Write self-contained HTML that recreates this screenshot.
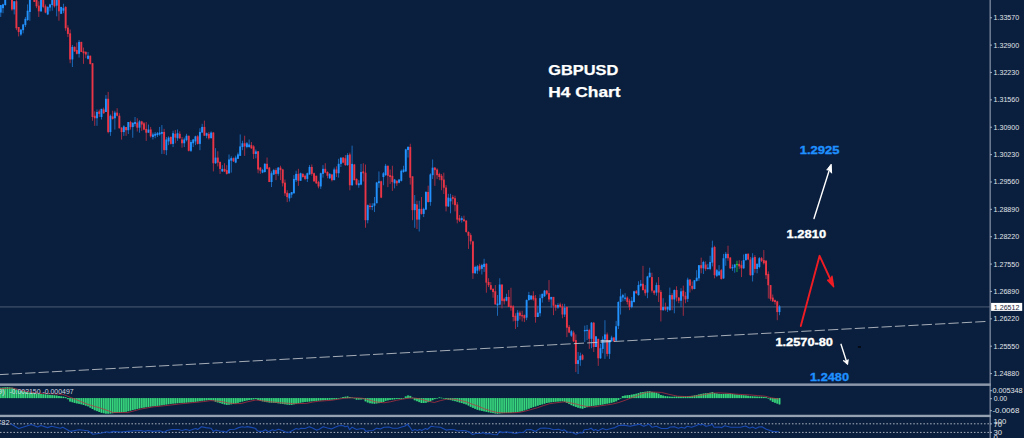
<!DOCTYPE html><html><head><meta charset="utf-8"><title>GBPUSD H4 Chart</title><style>
html,body{margin:0;padding:0;background:#0a1f3d;}
body{width:1024px;height:438px;overflow:hidden;font-family:"Liberation Sans",sans-serif;}
svg{display:block;}
text{font-family:"Liberation Sans",sans-serif;}
.ax{font-size:7.7px;fill:#e0e4ea;}
.lbl{font-weight:bold;font-size:11.2px;stroke-width:0.35px;}
</style></head><body>
<svg width="1024" height="438" viewBox="0 0 1024 438">
<rect x="0" y="0" width="1024" height="438" fill="#0a1f3d"/>
<rect x="0" y="306.1" width="990" height="1.6" fill="#8a96a8" opacity="0.33"/>
<g shape-rendering="geometricPrecision">
<rect x="0.31" y="5.03" width="0.9" height="11.93" fill="#1d6fc4"/>
<rect x="-0.19" y="5.03" width="1.90" height="7.54" fill="#2292ff"/>
<rect x="2.55" y="3.77" width="0.9" height="9.42" fill="#1d6fc4"/>
<rect x="2.05" y="4.40" width="1.90" height="3.77" fill="#2292ff"/>
<rect x="4.79" y="0.00" width="0.9" height="5.65" fill="#1d6fc4"/>
<rect x="4.29" y="0.00" width="1.90" height="5.03" fill="#2292ff"/>
<rect x="11.50" y="0.00" width="0.9" height="10.68" fill="#b02e45"/>
<rect x="11.00" y="0.00" width="1.90" height="9.42" fill="#ea3546"/>
<rect x="13.74" y="1.26" width="0.9" height="13.19" fill="#1d6fc4"/>
<rect x="13.24" y="1.26" width="1.90" height="8.17" fill="#2292ff"/>
<rect x="15.97" y="0.00" width="0.9" height="30.15" fill="#b02e45"/>
<rect x="15.47" y="1.26" width="1.90" height="27.01" fill="#ea3546"/>
<rect x="18.21" y="27.01" width="0.9" height="9.42" fill="#b02e45"/>
<rect x="17.71" y="27.01" width="1.90" height="5.03" fill="#ea3546"/>
<rect x="20.45" y="29.52" width="0.9" height="6.28" fill="#1d6fc4"/>
<rect x="19.95" y="29.52" width="1.90" height="5.03" fill="#2292ff"/>
<rect x="22.69" y="23.87" width="0.9" height="9.42" fill="#1d6fc4"/>
<rect x="22.19" y="24.50" width="1.90" height="5.65" fill="#2292ff"/>
<rect x="24.92" y="16.96" width="0.9" height="10.05" fill="#1d6fc4"/>
<rect x="24.42" y="18.84" width="1.90" height="6.28" fill="#2292ff"/>
<rect x="27.16" y="4.40" width="0.9" height="16.33" fill="#1d6fc4"/>
<rect x="26.66" y="10.68" width="1.90" height="9.42" fill="#2292ff"/>
<rect x="29.40" y="0.00" width="0.9" height="20.73" fill="#1d6fc4"/>
<rect x="28.90" y="0.00" width="1.90" height="11.93" fill="#2292ff"/>
<rect x="33.88" y="0.00" width="0.9" height="1.88" fill="#b02e45"/>
<rect x="33.38" y="0.00" width="1.90" height="1.88" fill="#ea3546"/>
<rect x="36.11" y="0.00" width="0.9" height="8.17" fill="#b02e45"/>
<rect x="35.61" y="0.00" width="1.90" height="6.28" fill="#ea3546"/>
<rect x="38.35" y="1.26" width="0.9" height="15.70" fill="#b02e45"/>
<rect x="37.85" y="5.65" width="1.90" height="5.65" fill="#ea3546"/>
<rect x="40.59" y="0.00" width="0.9" height="11.93" fill="#1d6fc4"/>
<rect x="40.09" y="0.00" width="1.90" height="11.31" fill="#2292ff"/>
<rect x="42.83" y="0.00" width="0.9" height="8.17" fill="#b02e45"/>
<rect x="42.33" y="0.00" width="1.90" height="6.91" fill="#ea3546"/>
<rect x="45.06" y="4.40" width="0.9" height="8.79" fill="#b02e45"/>
<rect x="44.56" y="6.28" width="1.90" height="6.28" fill="#ea3546"/>
<rect x="47.30" y="6.28" width="0.9" height="8.79" fill="#1d6fc4"/>
<rect x="46.80" y="6.91" width="1.90" height="7.54" fill="#2292ff"/>
<rect x="49.54" y="3.77" width="0.9" height="7.54" fill="#1d6fc4"/>
<rect x="49.04" y="4.40" width="1.90" height="3.14" fill="#2292ff"/>
<rect x="51.78" y="0.00" width="0.9" height="10.68" fill="#1d6fc4"/>
<rect x="51.28" y="0.00" width="1.90" height="5.03" fill="#2292ff"/>
<rect x="54.01" y="0.00" width="0.9" height="7.54" fill="#b02e45"/>
<rect x="53.51" y="0.00" width="1.90" height="6.28" fill="#ea3546"/>
<rect x="56.25" y="0.00" width="0.9" height="16.33" fill="#1d6fc4"/>
<rect x="55.75" y="0.00" width="1.90" height="5.65" fill="#2292ff"/>
<rect x="58.49" y="0.00" width="0.9" height="20.73" fill="#b02e45"/>
<rect x="57.99" y="0.00" width="1.90" height="11.31" fill="#ea3546"/>
<rect x="60.73" y="6.91" width="0.9" height="6.91" fill="#1d6fc4"/>
<rect x="60.23" y="6.91" width="1.90" height="6.91" fill="#2292ff"/>
<rect x="62.97" y="3.77" width="0.9" height="9.42" fill="#1d6fc4"/>
<rect x="62.47" y="8.17" width="1.90" height="2.51" fill="#2292ff"/>
<rect x="65.20" y="6.28" width="0.9" height="24.50" fill="#b02e45"/>
<rect x="64.70" y="6.91" width="1.90" height="21.36" fill="#ea3546"/>
<rect x="67.44" y="25.13" width="0.9" height="11.93" fill="#b02e45"/>
<rect x="66.94" y="27.64" width="1.90" height="6.28" fill="#ea3546"/>
<rect x="69.68" y="29.45" width="0.9" height="33.79" fill="#b02e45"/>
<rect x="69.18" y="33.34" width="1.90" height="26.13" fill="#ea3546"/>
<rect x="71.92" y="45.03" width="0.9" height="21.98" fill="#1d6fc4"/>
<rect x="71.42" y="46.91" width="1.90" height="12.56" fill="#2292ff"/>
<rect x="74.15" y="46.28" width="0.9" height="5.65" fill="#b02e45"/>
<rect x="73.65" y="46.91" width="1.90" height="4.40" fill="#ea3546"/>
<rect x="76.39" y="42.51" width="0.9" height="11.93" fill="#b02e45"/>
<rect x="75.89" y="50.05" width="1.90" height="3.77" fill="#ea3546"/>
<rect x="78.63" y="40.00" width="0.9" height="17.59" fill="#1d6fc4"/>
<rect x="78.13" y="41.88" width="1.90" height="11.93" fill="#2292ff"/>
<rect x="80.87" y="41.88" width="0.9" height="10.05" fill="#b02e45"/>
<rect x="80.37" y="41.88" width="1.90" height="10.05" fill="#ea3546"/>
<rect x="83.10" y="47.54" width="0.9" height="16.33" fill="#b02e45"/>
<rect x="82.60" y="51.31" width="1.90" height="1.88" fill="#ea3546"/>
<rect x="85.34" y="51.31" width="0.9" height="6.91" fill="#b02e45"/>
<rect x="84.84" y="51.93" width="1.90" height="2.51" fill="#ea3546"/>
<rect x="87.58" y="51.93" width="0.9" height="7.54" fill="#1d6fc4"/>
<rect x="87.08" y="55.70" width="1.90" height="3.14" fill="#2292ff"/>
<rect x="89.82" y="55.70" width="0.9" height="8.79" fill="#b02e45"/>
<rect x="89.32" y="55.70" width="1.90" height="8.17" fill="#ea3546"/>
<rect x="92.06" y="62.99" width="0.9" height="57.79" fill="#b02e45"/>
<rect x="91.56" y="63.24" width="1.90" height="53.77" fill="#ea3546"/>
<rect x="94.29" y="111.36" width="0.9" height="14.45" fill="#b02e45"/>
<rect x="93.79" y="115.75" width="1.90" height="2.51" fill="#ea3546"/>
<rect x="96.53" y="109.47" width="0.9" height="16.33" fill="#1d6fc4"/>
<rect x="96.03" y="111.98" width="1.90" height="6.28" fill="#2292ff"/>
<rect x="98.77" y="109.47" width="0.9" height="7.54" fill="#b02e45"/>
<rect x="98.27" y="111.36" width="1.90" height="2.51" fill="#ea3546"/>
<rect x="101.01" y="108.84" width="0.9" height="10.68" fill="#1d6fc4"/>
<rect x="100.51" y="108.84" width="1.90" height="8.17" fill="#2292ff"/>
<rect x="103.24" y="107.59" width="0.9" height="6.28" fill="#b02e45"/>
<rect x="102.74" y="109.47" width="1.90" height="3.77" fill="#ea3546"/>
<rect x="105.48" y="95.03" width="0.9" height="16.96" fill="#1d6fc4"/>
<rect x="104.98" y="98.79" width="1.90" height="13.19" fill="#2292ff"/>
<rect x="107.72" y="91.88" width="0.9" height="41.46" fill="#b02e45"/>
<rect x="107.22" y="98.79" width="1.90" height="33.29" fill="#ea3546"/>
<rect x="109.96" y="114.50" width="0.9" height="21.36" fill="#1d6fc4"/>
<rect x="109.46" y="115.75" width="1.90" height="16.33" fill="#2292ff"/>
<rect x="112.19" y="110.73" width="0.9" height="8.79" fill="#b02e45"/>
<rect x="111.69" y="116.38" width="1.90" height="2.51" fill="#ea3546"/>
<rect x="114.43" y="110.73" width="0.9" height="18.84" fill="#1d6fc4"/>
<rect x="113.93" y="112.61" width="1.90" height="5.65" fill="#2292ff"/>
<rect x="116.67" y="108.22" width="0.9" height="8.17" fill="#b02e45"/>
<rect x="116.17" y="112.61" width="1.90" height="3.14" fill="#ea3546"/>
<rect x="118.91" y="113.24" width="0.9" height="15.08" fill="#b02e45"/>
<rect x="118.41" y="115.75" width="1.90" height="12.56" fill="#ea3546"/>
<rect x="121.15" y="127.06" width="0.9" height="12.56" fill="#b02e45"/>
<rect x="120.65" y="127.69" width="1.90" height="4.40" fill="#ea3546"/>
<rect x="123.38" y="125.18" width="0.9" height="10.68" fill="#1d6fc4"/>
<rect x="122.88" y="126.43" width="1.90" height="5.65" fill="#2292ff"/>
<rect x="125.62" y="127.06" width="0.9" height="8.79" fill="#b02e45"/>
<rect x="125.12" y="127.06" width="1.90" height="3.14" fill="#ea3546"/>
<rect x="127.86" y="122.04" width="0.9" height="11.93" fill="#1d6fc4"/>
<rect x="127.36" y="122.04" width="1.90" height="8.17" fill="#2292ff"/>
<rect x="130.10" y="120.78" width="0.9" height="8.79" fill="#b02e45"/>
<rect x="129.60" y="122.04" width="1.90" height="5.03" fill="#ea3546"/>
<rect x="132.33" y="122.66" width="0.9" height="15.08" fill="#1d6fc4"/>
<rect x="131.83" y="122.66" width="1.90" height="4.40" fill="#2292ff"/>
<rect x="134.57" y="117.01" width="0.9" height="9.42" fill="#1d6fc4"/>
<rect x="134.07" y="122.04" width="1.90" height="1.88" fill="#2292ff"/>
<rect x="136.81" y="118.27" width="0.9" height="13.19" fill="#b02e45"/>
<rect x="136.31" y="122.66" width="1.90" height="5.03" fill="#ea3546"/>
<rect x="139.05" y="120.15" width="0.9" height="12.56" fill="#1d6fc4"/>
<rect x="138.55" y="121.41" width="1.90" height="6.28" fill="#2292ff"/>
<rect x="141.29" y="120.78" width="0.9" height="10.05" fill="#b02e45"/>
<rect x="140.79" y="121.41" width="1.90" height="3.14" fill="#ea3546"/>
<rect x="143.52" y="122.04" width="0.9" height="8.17" fill="#b02e45"/>
<rect x="143.02" y="123.29" width="1.90" height="6.28" fill="#ea3546"/>
<rect x="145.76" y="122.04" width="0.9" height="18.84" fill="#b02e45"/>
<rect x="145.26" y="128.94" width="1.90" height="3.77" fill="#ea3546"/>
<rect x="148.00" y="124.55" width="0.9" height="8.17" fill="#1d6fc4"/>
<rect x="147.50" y="129.57" width="1.90" height="3.14" fill="#2292ff"/>
<rect x="150.24" y="126.93" width="0.9" height="10.68" fill="#b02e45"/>
<rect x="149.74" y="129.45" width="1.90" height="6.91" fill="#ea3546"/>
<rect x="152.47" y="132.59" width="0.9" height="6.91" fill="#1d6fc4"/>
<rect x="151.97" y="134.47" width="1.90" height="2.51" fill="#2292ff"/>
<rect x="154.71" y="131.96" width="0.9" height="6.28" fill="#1d6fc4"/>
<rect x="154.21" y="133.84" width="1.90" height="1.88" fill="#2292ff"/>
<rect x="156.95" y="131.96" width="0.9" height="5.03" fill="#1d6fc4"/>
<rect x="156.45" y="133.22" width="1.90" height="1.88" fill="#2292ff"/>
<rect x="159.19" y="126.93" width="0.9" height="8.79" fill="#1d6fc4"/>
<rect x="158.69" y="132.59" width="1.90" height="1.88" fill="#2292ff"/>
<rect x="161.42" y="125.05" width="0.9" height="28.89" fill="#1d6fc4"/>
<rect x="160.92" y="131.96" width="1.90" height="1.88" fill="#2292ff"/>
<rect x="163.66" y="128.82" width="0.9" height="25.13" fill="#b02e45"/>
<rect x="163.16" y="131.96" width="1.90" height="18.22" fill="#ea3546"/>
<rect x="165.90" y="136.98" width="0.9" height="18.22" fill="#1d6fc4"/>
<rect x="165.40" y="139.50" width="1.90" height="10.68" fill="#2292ff"/>
<rect x="168.14" y="136.36" width="0.9" height="8.79" fill="#1d6fc4"/>
<rect x="167.64" y="137.61" width="1.90" height="3.77" fill="#2292ff"/>
<rect x="170.38" y="136.36" width="0.9" height="8.17" fill="#b02e45"/>
<rect x="169.88" y="136.98" width="1.90" height="6.91" fill="#ea3546"/>
<rect x="172.61" y="130.70" width="0.9" height="16.33" fill="#1d6fc4"/>
<rect x="172.11" y="133.22" width="1.90" height="10.68" fill="#2292ff"/>
<rect x="174.85" y="130.08" width="0.9" height="13.19" fill="#b02e45"/>
<rect x="174.35" y="133.84" width="1.90" height="3.77" fill="#ea3546"/>
<rect x="177.09" y="129.45" width="0.9" height="11.31" fill="#1d6fc4"/>
<rect x="176.59" y="133.22" width="1.90" height="5.03" fill="#2292ff"/>
<rect x="179.33" y="131.33" width="0.9" height="7.54" fill="#b02e45"/>
<rect x="178.83" y="133.84" width="1.90" height="4.40" fill="#ea3546"/>
<rect x="181.56" y="136.98" width="0.9" height="10.68" fill="#b02e45"/>
<rect x="181.06" y="139.50" width="1.90" height="3.77" fill="#ea3546"/>
<rect x="183.80" y="137.61" width="0.9" height="9.42" fill="#1d6fc4"/>
<rect x="183.30" y="139.50" width="1.90" height="3.77" fill="#2292ff"/>
<rect x="186.04" y="133.84" width="0.9" height="7.54" fill="#1d6fc4"/>
<rect x="185.54" y="135.73" width="1.90" height="4.40" fill="#2292ff"/>
<rect x="188.28" y="135.73" width="0.9" height="15.70" fill="#b02e45"/>
<rect x="187.78" y="135.73" width="1.90" height="15.08" fill="#ea3546"/>
<rect x="190.51" y="140.13" width="0.9" height="11.93" fill="#1d6fc4"/>
<rect x="190.01" y="142.01" width="1.90" height="8.79" fill="#2292ff"/>
<rect x="192.75" y="138.87" width="0.9" height="8.17" fill="#1d6fc4"/>
<rect x="192.25" y="139.50" width="1.90" height="3.77" fill="#2292ff"/>
<rect x="194.99" y="135.73" width="0.9" height="9.42" fill="#1d6fc4"/>
<rect x="194.49" y="136.36" width="1.90" height="5.03" fill="#2292ff"/>
<rect x="197.23" y="135.10" width="0.9" height="9.42" fill="#b02e45"/>
<rect x="196.73" y="136.36" width="1.90" height="7.54" fill="#ea3546"/>
<rect x="199.47" y="128.19" width="0.9" height="21.98" fill="#1d6fc4"/>
<rect x="198.97" y="131.96" width="1.90" height="11.93" fill="#2292ff"/>
<rect x="201.70" y="123.79" width="0.9" height="8.79" fill="#1d6fc4"/>
<rect x="201.20" y="126.93" width="1.90" height="5.65" fill="#2292ff"/>
<rect x="203.94" y="120.65" width="0.9" height="15.08" fill="#b02e45"/>
<rect x="203.44" y="126.93" width="1.90" height="8.79" fill="#ea3546"/>
<rect x="206.18" y="132.59" width="0.9" height="5.65" fill="#1d6fc4"/>
<rect x="205.68" y="133.22" width="1.90" height="2.51" fill="#2292ff"/>
<rect x="208.42" y="131.96" width="0.9" height="7.54" fill="#b02e45"/>
<rect x="207.92" y="133.84" width="1.90" height="4.40" fill="#ea3546"/>
<rect x="210.65" y="131.33" width="0.9" height="6.91" fill="#1d6fc4"/>
<rect x="210.15" y="132.59" width="1.90" height="5.65" fill="#2292ff"/>
<rect x="212.89" y="131.96" width="0.9" height="39.45" fill="#b02e45"/>
<rect x="212.39" y="132.59" width="1.90" height="30.65" fill="#ea3546"/>
<rect x="215.13" y="148.17" width="0.9" height="15.70" fill="#1d6fc4"/>
<rect x="214.63" y="157.59" width="1.90" height="5.65" fill="#2292ff"/>
<rect x="217.37" y="151.31" width="0.9" height="15.08" fill="#b02e45"/>
<rect x="216.87" y="157.59" width="1.90" height="5.03" fill="#ea3546"/>
<rect x="219.60" y="161.36" width="0.9" height="12.56" fill="#b02e45"/>
<rect x="219.10" y="161.98" width="1.90" height="6.91" fill="#ea3546"/>
<rect x="221.84" y="165.13" width="0.9" height="6.91" fill="#1d6fc4"/>
<rect x="221.34" y="168.89" width="1.90" height="2.51" fill="#2292ff"/>
<rect x="224.08" y="163.24" width="0.9" height="8.79" fill="#b02e45"/>
<rect x="223.58" y="168.89" width="1.90" height="2.51" fill="#ea3546"/>
<rect x="226.32" y="165.13" width="0.9" height="9.42" fill="#b02e45"/>
<rect x="225.82" y="170.15" width="1.90" height="3.77" fill="#ea3546"/>
<rect x="228.56" y="154.45" width="0.9" height="19.47" fill="#1d6fc4"/>
<rect x="228.06" y="159.47" width="1.90" height="13.82" fill="#2292ff"/>
<rect x="230.79" y="156.28" width="0.9" height="16.33" fill="#1d6fc4"/>
<rect x="230.29" y="158.17" width="1.90" height="2.51" fill="#2292ff"/>
<rect x="233.03" y="157.54" width="0.9" height="4.40" fill="#b02e45"/>
<rect x="232.53" y="158.17" width="1.90" height="3.14" fill="#ea3546"/>
<rect x="235.27" y="155.65" width="0.9" height="7.54" fill="#1d6fc4"/>
<rect x="234.77" y="157.54" width="1.90" height="5.03" fill="#2292ff"/>
<rect x="237.51" y="152.51" width="0.9" height="6.28" fill="#1d6fc4"/>
<rect x="237.01" y="154.40" width="1.90" height="4.40" fill="#2292ff"/>
<rect x="239.74" y="134.47" width="0.9" height="21.36" fill="#1d6fc4"/>
<rect x="239.24" y="146.41" width="1.90" height="9.42" fill="#2292ff"/>
<rect x="241.98" y="140.75" width="0.9" height="9.42" fill="#1d6fc4"/>
<rect x="241.48" y="143.27" width="1.90" height="3.77" fill="#2292ff"/>
<rect x="244.22" y="135.73" width="0.9" height="20.10" fill="#b02e45"/>
<rect x="243.72" y="143.27" width="1.90" height="3.14" fill="#ea3546"/>
<rect x="246.46" y="142.01" width="0.9" height="6.28" fill="#1d6fc4"/>
<rect x="245.96" y="143.27" width="1.90" height="3.77" fill="#2292ff"/>
<rect x="248.69" y="139.50" width="0.9" height="8.17" fill="#1d6fc4"/>
<rect x="248.19" y="144.52" width="1.90" height="2.51" fill="#2292ff"/>
<rect x="250.93" y="142.01" width="0.9" height="6.91" fill="#b02e45"/>
<rect x="250.43" y="145.15" width="1.90" height="3.14" fill="#ea3546"/>
<rect x="253.17" y="145.15" width="0.9" height="13.82" fill="#b02e45"/>
<rect x="252.67" y="146.41" width="1.90" height="7.54" fill="#ea3546"/>
<rect x="255.41" y="149.55" width="0.9" height="8.79" fill="#1d6fc4"/>
<rect x="254.91" y="151.43" width="1.90" height="2.51" fill="#2292ff"/>
<rect x="257.65" y="151.26" width="0.9" height="21.98" fill="#b02e45"/>
<rect x="257.15" y="151.26" width="1.90" height="18.22" fill="#ea3546"/>
<rect x="259.88" y="166.96" width="0.9" height="6.91" fill="#b02e45"/>
<rect x="259.38" y="167.59" width="1.90" height="3.14" fill="#ea3546"/>
<rect x="262.12" y="168.84" width="0.9" height="4.40" fill="#1d6fc4"/>
<rect x="261.62" y="170.10" width="1.90" height="2.51" fill="#2292ff"/>
<rect x="264.36" y="163.19" width="0.9" height="9.42" fill="#1d6fc4"/>
<rect x="263.86" y="163.82" width="1.90" height="8.17" fill="#2292ff"/>
<rect x="266.60" y="157.54" width="0.9" height="11.93" fill="#b02e45"/>
<rect x="266.10" y="163.82" width="1.90" height="5.03" fill="#ea3546"/>
<rect x="268.83" y="166.96" width="0.9" height="15.08" fill="#b02e45"/>
<rect x="268.33" y="167.59" width="1.90" height="14.45" fill="#ea3546"/>
<rect x="271.07" y="171.36" width="0.9" height="15.70" fill="#1d6fc4"/>
<rect x="270.57" y="173.24" width="1.90" height="8.79" fill="#2292ff"/>
<rect x="273.31" y="168.84" width="0.9" height="6.28" fill="#1d6fc4"/>
<rect x="272.81" y="170.10" width="1.90" height="4.40" fill="#2292ff"/>
<rect x="275.55" y="168.22" width="0.9" height="11.93" fill="#b02e45"/>
<rect x="275.05" y="170.10" width="1.90" height="3.77" fill="#ea3546"/>
<rect x="277.78" y="166.96" width="0.9" height="8.79" fill="#1d6fc4"/>
<rect x="277.28" y="167.59" width="1.90" height="6.28" fill="#2292ff"/>
<rect x="280.02" y="165.70" width="0.9" height="14.45" fill="#b02e45"/>
<rect x="279.52" y="167.59" width="1.90" height="2.51" fill="#ea3546"/>
<rect x="282.26" y="168.84" width="0.9" height="17.59" fill="#b02e45"/>
<rect x="281.76" y="169.47" width="1.90" height="13.82" fill="#ea3546"/>
<rect x="284.50" y="179.52" width="0.9" height="16.33" fill="#b02e45"/>
<rect x="284.00" y="182.66" width="1.90" height="10.68" fill="#ea3546"/>
<rect x="286.74" y="190.20" width="0.9" height="11.93" fill="#b02e45"/>
<rect x="286.24" y="192.71" width="1.90" height="4.40" fill="#ea3546"/>
<rect x="288.97" y="193.34" width="0.9" height="8.17" fill="#1d6fc4"/>
<rect x="288.47" y="193.34" width="1.90" height="5.03" fill="#2292ff"/>
<rect x="291.21" y="192.09" width="0.9" height="5.65" fill="#1d6fc4"/>
<rect x="290.71" y="192.09" width="1.90" height="2.51" fill="#2292ff"/>
<rect x="293.45" y="175.13" width="0.9" height="18.22" fill="#1d6fc4"/>
<rect x="292.95" y="178.89" width="1.90" height="14.45" fill="#2292ff"/>
<rect x="295.69" y="170.73" width="0.9" height="11.31" fill="#1d6fc4"/>
<rect x="295.19" y="173.87" width="1.90" height="6.28" fill="#2292ff"/>
<rect x="297.92" y="168.84" width="0.9" height="16.96" fill="#b02e45"/>
<rect x="297.42" y="173.87" width="1.90" height="6.91" fill="#ea3546"/>
<rect x="300.16" y="172.61" width="0.9" height="8.17" fill="#1d6fc4"/>
<rect x="299.66" y="173.24" width="1.90" height="7.54" fill="#2292ff"/>
<rect x="302.40" y="173.24" width="0.9" height="4.40" fill="#b02e45"/>
<rect x="301.90" y="173.87" width="1.90" height="3.14" fill="#ea3546"/>
<rect x="304.64" y="174.50" width="0.9" height="5.65" fill="#b02e45"/>
<rect x="304.14" y="175.75" width="1.90" height="3.14" fill="#ea3546"/>
<rect x="306.87" y="172.61" width="0.9" height="9.42" fill="#1d6fc4"/>
<rect x="306.37" y="173.24" width="1.90" height="5.65" fill="#2292ff"/>
<rect x="309.11" y="165.08" width="0.9" height="9.42" fill="#1d6fc4"/>
<rect x="308.61" y="166.96" width="1.90" height="7.54" fill="#2292ff"/>
<rect x="311.35" y="164.45" width="0.9" height="11.31" fill="#b02e45"/>
<rect x="310.85" y="166.96" width="1.90" height="6.91" fill="#ea3546"/>
<rect x="313.59" y="172.61" width="0.9" height="8.79" fill="#b02e45"/>
<rect x="313.09" y="173.24" width="1.90" height="8.17" fill="#ea3546"/>
<rect x="315.83" y="175.75" width="0.9" height="8.17" fill="#b02e45"/>
<rect x="315.33" y="175.75" width="1.90" height="7.54" fill="#ea3546"/>
<rect x="318.06" y="180.78" width="0.9" height="7.54" fill="#b02e45"/>
<rect x="317.56" y="182.04" width="1.90" height="4.40" fill="#ea3546"/>
<rect x="320.30" y="172.61" width="0.9" height="16.33" fill="#1d6fc4"/>
<rect x="319.80" y="173.24" width="1.90" height="13.19" fill="#2292ff"/>
<rect x="322.54" y="165.08" width="0.9" height="12.56" fill="#1d6fc4"/>
<rect x="322.04" y="168.84" width="1.90" height="5.03" fill="#2292ff"/>
<rect x="324.78" y="163.19" width="0.9" height="10.05" fill="#b02e45"/>
<rect x="324.28" y="168.84" width="1.90" height="3.77" fill="#ea3546"/>
<rect x="327.01" y="171.36" width="0.9" height="6.91" fill="#b02e45"/>
<rect x="326.51" y="171.98" width="1.90" height="3.77" fill="#ea3546"/>
<rect x="329.25" y="173.24" width="0.9" height="5.65" fill="#1d6fc4"/>
<rect x="328.75" y="173.87" width="1.90" height="4.40" fill="#2292ff"/>
<rect x="331.49" y="173.87" width="0.9" height="7.54" fill="#b02e45"/>
<rect x="330.99" y="174.50" width="1.90" height="5.65" fill="#ea3546"/>
<rect x="333.73" y="167.59" width="0.9" height="12.56" fill="#1d6fc4"/>
<rect x="333.23" y="169.47" width="1.90" height="10.68" fill="#2292ff"/>
<rect x="335.96" y="166.33" width="0.9" height="10.68" fill="#b02e45"/>
<rect x="335.46" y="169.47" width="1.90" height="3.77" fill="#ea3546"/>
<rect x="338.20" y="158.79" width="0.9" height="18.84" fill="#1d6fc4"/>
<rect x="337.70" y="163.82" width="1.90" height="9.42" fill="#2292ff"/>
<rect x="340.44" y="157.59" width="0.9" height="9.42" fill="#1d6fc4"/>
<rect x="339.94" y="157.59" width="1.90" height="6.28" fill="#2292ff"/>
<rect x="342.68" y="156.96" width="0.9" height="6.28" fill="#b02e45"/>
<rect x="342.18" y="157.59" width="1.90" height="5.03" fill="#ea3546"/>
<rect x="344.92" y="155.08" width="0.9" height="10.68" fill="#b02e45"/>
<rect x="344.42" y="158.22" width="1.90" height="6.91" fill="#ea3546"/>
<rect x="347.15" y="153.19" width="0.9" height="12.56" fill="#1d6fc4"/>
<rect x="346.65" y="155.08" width="1.90" height="10.05" fill="#2292ff"/>
<rect x="349.39" y="152.56" width="0.9" height="37.69" fill="#b02e45"/>
<rect x="348.89" y="154.45" width="1.90" height="30.78" fill="#ea3546"/>
<rect x="351.63" y="145.65" width="0.9" height="40.20" fill="#1d6fc4"/>
<rect x="351.13" y="163.87" width="1.90" height="21.36" fill="#2292ff"/>
<rect x="353.87" y="163.87" width="0.9" height="16.33" fill="#b02e45"/>
<rect x="353.37" y="164.50" width="1.90" height="15.70" fill="#ea3546"/>
<rect x="356.10" y="178.32" width="0.9" height="6.91" fill="#b02e45"/>
<rect x="355.60" y="178.94" width="1.90" height="5.65" fill="#ea3546"/>
<rect x="358.34" y="180.20" width="0.9" height="7.54" fill="#1d6fc4"/>
<rect x="357.84" y="183.34" width="1.90" height="1.88" fill="#2292ff"/>
<rect x="360.58" y="163.87" width="0.9" height="21.36" fill="#1d6fc4"/>
<rect x="360.08" y="172.04" width="1.90" height="12.56" fill="#2292ff"/>
<rect x="362.82" y="163.24" width="0.9" height="18.22" fill="#b02e45"/>
<rect x="362.32" y="171.41" width="1.90" height="1.88" fill="#ea3546"/>
<rect x="365.06" y="164.55" width="0.9" height="63.19" fill="#b02e45"/>
<rect x="364.56" y="172.71" width="1.90" height="47.49" fill="#ea3546"/>
<rect x="367.29" y="204.50" width="0.9" height="18.84" fill="#1d6fc4"/>
<rect x="366.79" y="205.13" width="1.90" height="15.08" fill="#2292ff"/>
<rect x="369.53" y="203.24" width="0.9" height="6.28" fill="#b02e45"/>
<rect x="369.03" y="205.75" width="1.90" height="1.26" fill="#ea3546"/>
<rect x="371.77" y="203.24" width="0.9" height="6.91" fill="#1d6fc4"/>
<rect x="371.27" y="205.75" width="1.90" height="1.26" fill="#2292ff"/>
<rect x="374.01" y="196.96" width="0.9" height="15.08" fill="#1d6fc4"/>
<rect x="373.51" y="203.24" width="1.90" height="2.51" fill="#2292ff"/>
<rect x="376.24" y="181.88" width="0.9" height="21.36" fill="#1d6fc4"/>
<rect x="375.74" y="182.51" width="1.90" height="20.73" fill="#2292ff"/>
<rect x="378.48" y="171.46" width="0.9" height="16.33" fill="#1d6fc4"/>
<rect x="377.98" y="181.26" width="1.90" height="1.88" fill="#2292ff"/>
<rect x="380.72" y="180.63" width="0.9" height="17.59" fill="#b02e45"/>
<rect x="380.22" y="181.26" width="1.90" height="16.33" fill="#ea3546"/>
<rect x="382.96" y="172.04" width="0.9" height="13.19" fill="#1d6fc4"/>
<rect x="382.46" y="173.29" width="1.90" height="3.77" fill="#2292ff"/>
<rect x="385.19" y="163.87" width="0.9" height="11.93" fill="#1d6fc4"/>
<rect x="384.69" y="165.75" width="1.90" height="9.42" fill="#2292ff"/>
<rect x="387.43" y="165.75" width="0.9" height="21.36" fill="#b02e45"/>
<rect x="386.93" y="165.75" width="1.90" height="10.05" fill="#ea3546"/>
<rect x="389.67" y="169.52" width="0.9" height="14.45" fill="#b02e45"/>
<rect x="389.17" y="175.18" width="1.90" height="1.88" fill="#ea3546"/>
<rect x="391.91" y="165.75" width="0.9" height="25.13" fill="#b02e45"/>
<rect x="391.41" y="175.80" width="1.90" height="6.28" fill="#ea3546"/>
<rect x="394.15" y="178.94" width="0.9" height="9.42" fill="#1d6fc4"/>
<rect x="393.65" y="179.57" width="1.90" height="3.77" fill="#2292ff"/>
<rect x="396.38" y="180.20" width="0.9" height="5.65" fill="#b02e45"/>
<rect x="395.88" y="180.83" width="1.90" height="2.51" fill="#ea3546"/>
<rect x="398.62" y="178.94" width="0.9" height="4.40" fill="#1d6fc4"/>
<rect x="398.12" y="179.57" width="1.90" height="3.14" fill="#2292ff"/>
<rect x="400.86" y="169.52" width="0.9" height="11.93" fill="#1d6fc4"/>
<rect x="400.36" y="170.78" width="1.90" height="10.05" fill="#2292ff"/>
<rect x="403.10" y="165.75" width="0.9" height="6.91" fill="#1d6fc4"/>
<rect x="402.60" y="169.52" width="1.90" height="2.51" fill="#2292ff"/>
<rect x="405.33" y="148.79" width="0.9" height="23.24" fill="#1d6fc4"/>
<rect x="404.83" y="149.42" width="1.90" height="21.98" fill="#2292ff"/>
<rect x="407.57" y="146.28" width="0.9" height="11.31" fill="#1d6fc4"/>
<rect x="407.07" y="146.91" width="1.90" height="3.14" fill="#2292ff"/>
<rect x="409.81" y="143.77" width="0.9" height="40.83" fill="#b02e45"/>
<rect x="409.31" y="146.91" width="1.90" height="30.78" fill="#ea3546"/>
<rect x="412.05" y="176.36" width="0.9" height="43.84" fill="#b02e45"/>
<rect x="411.55" y="176.36" width="1.90" height="33.79" fill="#ea3546"/>
<rect x="414.28" y="195.08" width="0.9" height="32.66" fill="#1d6fc4"/>
<rect x="413.78" y="203.87" width="1.90" height="6.28" fill="#2292ff"/>
<rect x="416.52" y="200.73" width="0.9" height="28.27" fill="#b02e45"/>
<rect x="416.02" y="204.50" width="1.90" height="15.08" fill="#ea3546"/>
<rect x="418.76" y="200.73" width="0.9" height="30.78" fill="#1d6fc4"/>
<rect x="418.26" y="208.89" width="1.90" height="10.68" fill="#2292ff"/>
<rect x="421.00" y="196.96" width="0.9" height="17.59" fill="#b02e45"/>
<rect x="420.50" y="208.89" width="1.90" height="5.03" fill="#ea3546"/>
<rect x="423.24" y="207.64" width="0.9" height="9.42" fill="#1d6fc4"/>
<rect x="422.74" y="208.89" width="1.90" height="5.03" fill="#2292ff"/>
<rect x="425.47" y="191.31" width="0.9" height="18.84" fill="#1d6fc4"/>
<rect x="424.97" y="191.93" width="1.90" height="17.59" fill="#2292ff"/>
<rect x="427.71" y="185.65" width="0.9" height="16.96" fill="#b02e45"/>
<rect x="427.21" y="191.93" width="1.90" height="10.05" fill="#ea3546"/>
<rect x="429.95" y="173.34" width="0.9" height="32.41" fill="#1d6fc4"/>
<rect x="429.45" y="174.47" width="1.90" height="27.51" fill="#2292ff"/>
<rect x="432.19" y="159.47" width="0.9" height="19.47" fill="#1d6fc4"/>
<rect x="431.69" y="167.64" width="1.90" height="7.54" fill="#2292ff"/>
<rect x="434.42" y="167.01" width="0.9" height="18.84" fill="#b02e45"/>
<rect x="433.92" y="167.64" width="1.90" height="2.51" fill="#ea3546"/>
<rect x="436.66" y="168.27" width="0.9" height="10.68" fill="#b02e45"/>
<rect x="436.16" y="169.52" width="1.90" height="5.65" fill="#ea3546"/>
<rect x="438.90" y="172.66" width="0.9" height="7.54" fill="#b02e45"/>
<rect x="438.40" y="173.92" width="1.90" height="3.14" fill="#ea3546"/>
<rect x="441.14" y="173.92" width="0.9" height="16.33" fill="#b02e45"/>
<rect x="440.64" y="175.80" width="1.90" height="4.40" fill="#ea3546"/>
<rect x="443.37" y="172.66" width="0.9" height="21.36" fill="#b02e45"/>
<rect x="442.87" y="179.57" width="1.90" height="8.17" fill="#ea3546"/>
<rect x="445.61" y="185.03" width="0.9" height="26.38" fill="#b02e45"/>
<rect x="445.11" y="187.54" width="1.90" height="18.84" fill="#ea3546"/>
<rect x="447.85" y="193.82" width="0.9" height="13.19" fill="#1d6fc4"/>
<rect x="447.35" y="197.59" width="1.90" height="8.79" fill="#2292ff"/>
<rect x="450.09" y="193.82" width="0.9" height="19.47" fill="#1d6fc4"/>
<rect x="449.59" y="198.22" width="1.90" height="3.14" fill="#2292ff"/>
<rect x="452.33" y="195.08" width="0.9" height="9.42" fill="#b02e45"/>
<rect x="451.83" y="196.96" width="1.90" height="1.88" fill="#ea3546"/>
<rect x="454.56" y="195.70" width="0.9" height="15.70" fill="#b02e45"/>
<rect x="454.06" y="198.22" width="1.90" height="6.91" fill="#ea3546"/>
<rect x="456.80" y="201.98" width="0.9" height="21.36" fill="#b02e45"/>
<rect x="456.30" y="204.50" width="1.90" height="15.08" fill="#ea3546"/>
<rect x="459.04" y="215.00" width="0.9" height="6.91" fill="#b02e45"/>
<rect x="458.54" y="218.14" width="1.90" height="2.51" fill="#ea3546"/>
<rect x="461.28" y="216.26" width="0.9" height="6.28" fill="#1d6fc4"/>
<rect x="460.78" y="218.14" width="1.90" height="1.88" fill="#2292ff"/>
<rect x="463.51" y="215.63" width="0.9" height="5.65" fill="#b02e45"/>
<rect x="463.01" y="219.40" width="1.90" height="1.88" fill="#ea3546"/>
<rect x="465.75" y="220.03" width="0.9" height="12.56" fill="#b02e45"/>
<rect x="465.25" y="220.65" width="1.90" height="11.31" fill="#ea3546"/>
<rect x="467.99" y="231.33" width="0.9" height="17.59" fill="#b02e45"/>
<rect x="467.49" y="231.96" width="1.90" height="3.77" fill="#ea3546"/>
<rect x="470.23" y="233.22" width="0.9" height="11.31" fill="#b02e45"/>
<rect x="469.73" y="235.10" width="1.90" height="6.28" fill="#ea3546"/>
<rect x="472.46" y="240.80" width="0.9" height="38.07" fill="#b02e45"/>
<rect x="471.96" y="241.43" width="1.90" height="31.78" fill="#ea3546"/>
<rect x="474.70" y="265.68" width="0.9" height="8.17" fill="#1d6fc4"/>
<rect x="474.20" y="266.93" width="1.90" height="6.28" fill="#2292ff"/>
<rect x="476.94" y="265.05" width="0.9" height="8.79" fill="#1d6fc4"/>
<rect x="476.44" y="266.31" width="1.90" height="4.40" fill="#2292ff"/>
<rect x="479.18" y="263.79" width="0.9" height="7.54" fill="#b02e45"/>
<rect x="478.68" y="265.68" width="1.90" height="3.77" fill="#ea3546"/>
<rect x="481.42" y="263.79" width="0.9" height="10.68" fill="#1d6fc4"/>
<rect x="480.92" y="265.05" width="1.90" height="3.77" fill="#2292ff"/>
<rect x="483.65" y="258.77" width="0.9" height="13.19" fill="#1d6fc4"/>
<rect x="483.15" y="263.79" width="1.90" height="3.14" fill="#2292ff"/>
<rect x="485.89" y="263.17" width="0.9" height="29.52" fill="#b02e45"/>
<rect x="485.39" y="263.79" width="1.90" height="18.84" fill="#ea3546"/>
<rect x="488.13" y="278.24" width="0.9" height="8.79" fill="#b02e45"/>
<rect x="487.63" y="282.01" width="1.90" height="3.14" fill="#ea3546"/>
<rect x="490.37" y="282.01" width="0.9" height="8.17" fill="#b02e45"/>
<rect x="489.87" y="285.15" width="1.90" height="4.40" fill="#ea3546"/>
<rect x="492.60" y="288.29" width="0.9" height="9.42" fill="#b02e45"/>
<rect x="492.10" y="288.92" width="1.90" height="3.14" fill="#ea3546"/>
<rect x="494.84" y="284.97" width="0.9" height="19.47" fill="#b02e45"/>
<rect x="494.34" y="291.26" width="1.90" height="13.19" fill="#ea3546"/>
<rect x="497.08" y="295.03" width="0.9" height="20.73" fill="#1d6fc4"/>
<rect x="496.58" y="303.57" width="1.90" height="1.76" fill="#2292ff"/>
<rect x="499.32" y="278.24" width="0.9" height="27.01" fill="#1d6fc4"/>
<rect x="498.82" y="284.52" width="1.90" height="20.10" fill="#2292ff"/>
<rect x="501.55" y="284.52" width="0.9" height="23.87" fill="#b02e45"/>
<rect x="501.05" y="284.52" width="1.90" height="16.33" fill="#ea3546"/>
<rect x="503.79" y="297.54" width="0.9" height="6.91" fill="#b02e45"/>
<rect x="503.29" y="298.79" width="1.90" height="2.51" fill="#ea3546"/>
<rect x="506.03" y="293.77" width="0.9" height="7.54" fill="#1d6fc4"/>
<rect x="505.53" y="296.91" width="1.90" height="3.77" fill="#2292ff"/>
<rect x="508.27" y="290.00" width="0.9" height="16.96" fill="#b02e45"/>
<rect x="507.77" y="296.91" width="1.90" height="10.05" fill="#ea3546"/>
<rect x="510.51" y="287.74" width="0.9" height="22.99" fill="#b02e45"/>
<rect x="510.01" y="305.70" width="1.90" height="1.88" fill="#ea3546"/>
<rect x="512.74" y="305.08" width="0.9" height="16.33" fill="#b02e45"/>
<rect x="512.24" y="306.33" width="1.90" height="10.68" fill="#ea3546"/>
<rect x="514.98" y="313.24" width="0.9" height="15.70" fill="#b02e45"/>
<rect x="514.48" y="315.75" width="1.90" height="5.03" fill="#ea3546"/>
<rect x="517.22" y="310.10" width="0.9" height="16.96" fill="#1d6fc4"/>
<rect x="516.72" y="312.61" width="1.90" height="8.17" fill="#2292ff"/>
<rect x="519.46" y="310.73" width="0.9" height="8.79" fill="#b02e45"/>
<rect x="518.96" y="312.61" width="1.90" height="3.14" fill="#ea3546"/>
<rect x="521.69" y="310.73" width="0.9" height="10.68" fill="#b02e45"/>
<rect x="521.19" y="315.13" width="1.90" height="1.26" fill="#ea3546"/>
<rect x="523.93" y="314.50" width="0.9" height="7.54" fill="#b02e45"/>
<rect x="523.43" y="315.13" width="1.90" height="3.14" fill="#ea3546"/>
<rect x="526.17" y="299.42" width="0.9" height="20.73" fill="#1d6fc4"/>
<rect x="525.67" y="300.05" width="1.90" height="17.59" fill="#2292ff"/>
<rect x="528.41" y="291.88" width="0.9" height="8.79" fill="#1d6fc4"/>
<rect x="527.91" y="295.03" width="1.90" height="5.03" fill="#2292ff"/>
<rect x="530.64" y="295.03" width="0.9" height="5.03" fill="#1d6fc4"/>
<rect x="530.14" y="295.65" width="1.90" height="3.77" fill="#2292ff"/>
<rect x="532.88" y="291.26" width="0.9" height="9.42" fill="#b02e45"/>
<rect x="532.38" y="295.65" width="1.90" height="3.77" fill="#ea3546"/>
<rect x="535.12" y="295.03" width="0.9" height="27.64" fill="#b02e45"/>
<rect x="534.62" y="298.17" width="1.90" height="18.84" fill="#ea3546"/>
<rect x="537.36" y="305.70" width="0.9" height="11.31" fill="#1d6fc4"/>
<rect x="536.86" y="312.61" width="1.90" height="4.40" fill="#2292ff"/>
<rect x="539.60" y="294.40" width="0.9" height="21.98" fill="#1d6fc4"/>
<rect x="539.10" y="298.17" width="1.90" height="15.08" fill="#2292ff"/>
<rect x="541.83" y="293.77" width="0.9" height="8.79" fill="#1d6fc4"/>
<rect x="541.33" y="293.77" width="1.90" height="4.40" fill="#2292ff"/>
<rect x="544.07" y="290.00" width="0.9" height="6.91" fill="#1d6fc4"/>
<rect x="543.57" y="290.63" width="1.90" height="5.65" fill="#2292ff"/>
<rect x="546.31" y="290.00" width="0.9" height="5.03" fill="#b02e45"/>
<rect x="545.81" y="290.63" width="1.90" height="3.14" fill="#ea3546"/>
<rect x="548.55" y="280.08" width="0.9" height="21.86" fill="#b02e45"/>
<rect x="548.05" y="293.14" width="1.90" height="6.28" fill="#ea3546"/>
<rect x="550.78" y="296.91" width="0.9" height="10.68" fill="#1d6fc4"/>
<rect x="550.28" y="296.91" width="1.90" height="2.51" fill="#2292ff"/>
<rect x="553.02" y="296.91" width="0.9" height="18.22" fill="#b02e45"/>
<rect x="552.52" y="296.91" width="1.90" height="8.79" fill="#ea3546"/>
<rect x="555.26" y="304.45" width="0.9" height="6.28" fill="#b02e45"/>
<rect x="554.76" y="305.08" width="1.90" height="2.51" fill="#ea3546"/>
<rect x="557.50" y="303.19" width="0.9" height="5.65" fill="#1d6fc4"/>
<rect x="557.00" y="305.08" width="1.90" height="2.51" fill="#2292ff"/>
<rect x="559.73" y="302.56" width="0.9" height="5.03" fill="#b02e45"/>
<rect x="559.23" y="304.45" width="1.90" height="2.51" fill="#ea3546"/>
<rect x="561.97" y="303.82" width="0.9" height="14.45" fill="#b02e45"/>
<rect x="561.47" y="306.33" width="1.90" height="8.17" fill="#ea3546"/>
<rect x="564.21" y="303.82" width="0.9" height="13.19" fill="#1d6fc4"/>
<rect x="563.71" y="307.59" width="1.90" height="6.91" fill="#2292ff"/>
<rect x="566.45" y="306.33" width="0.9" height="30.78" fill="#b02e45"/>
<rect x="565.95" y="306.96" width="1.90" height="20.73" fill="#ea3546"/>
<rect x="568.69" y="325.00" width="0.9" height="8.17" fill="#b02e45"/>
<rect x="568.19" y="326.88" width="1.90" height="5.65" fill="#ea3546"/>
<rect x="570.92" y="330.03" width="0.9" height="6.91" fill="#1d6fc4"/>
<rect x="570.42" y="331.28" width="1.90" height="4.40" fill="#2292ff"/>
<rect x="573.16" y="330.65" width="0.9" height="11.31" fill="#b02e45"/>
<rect x="572.66" y="332.54" width="1.90" height="8.79" fill="#ea3546"/>
<rect x="575.40" y="334.42" width="0.9" height="37.69" fill="#b02e45"/>
<rect x="574.90" y="340.08" width="1.90" height="23.87" fill="#ea3546"/>
<rect x="577.64" y="352.01" width="0.9" height="21.98" fill="#1d6fc4"/>
<rect x="577.14" y="360.18" width="1.90" height="3.77" fill="#2292ff"/>
<rect x="579.87" y="352.64" width="0.9" height="13.19" fill="#1d6fc4"/>
<rect x="579.37" y="355.78" width="1.90" height="4.40" fill="#2292ff"/>
<rect x="582.11" y="353.89" width="0.9" height="6.28" fill="#b02e45"/>
<rect x="581.61" y="355.15" width="1.90" height="4.40" fill="#ea3546"/>
<rect x="584.35" y="325.63" width="0.9" height="16.33" fill="#1d6fc4"/>
<rect x="583.85" y="330.03" width="1.90" height="1.26" fill="#2292ff"/>
<rect x="586.59" y="325.00" width="0.9" height="15.08" fill="#1d6fc4"/>
<rect x="586.09" y="329.77" width="1.90" height="1.26" fill="#2292ff"/>
<rect x="588.83" y="328.77" width="0.9" height="20.10" fill="#b02e45"/>
<rect x="588.33" y="330.03" width="1.90" height="8.79" fill="#ea3546"/>
<rect x="591.06" y="321.98" width="0.9" height="26.26" fill="#1d6fc4"/>
<rect x="590.56" y="322.74" width="1.90" height="16.08" fill="#2292ff"/>
<rect x="593.30" y="321.98" width="0.9" height="30.03" fill="#b02e45"/>
<rect x="592.80" y="322.74" width="1.90" height="24.25" fill="#ea3546"/>
<rect x="595.54" y="336.31" width="0.9" height="10.68" fill="#1d6fc4"/>
<rect x="595.04" y="336.31" width="1.90" height="10.68" fill="#2292ff"/>
<rect x="597.78" y="338.82" width="0.9" height="27.01" fill="#b02e45"/>
<rect x="597.28" y="338.82" width="1.90" height="19.47" fill="#ea3546"/>
<rect x="600.01" y="343.84" width="0.9" height="15.08" fill="#1d6fc4"/>
<rect x="599.51" y="348.24" width="1.90" height="10.05" fill="#2292ff"/>
<rect x="602.25" y="336.31" width="0.9" height="16.96" fill="#1d6fc4"/>
<rect x="601.75" y="339.45" width="1.90" height="9.42" fill="#2292ff"/>
<rect x="604.49" y="320.23" width="0.9" height="38.69" fill="#1d6fc4"/>
<rect x="603.99" y="334.42" width="1.90" height="5.03" fill="#2292ff"/>
<rect x="606.73" y="332.54" width="0.9" height="23.87" fill="#b02e45"/>
<rect x="606.23" y="334.42" width="1.90" height="19.47" fill="#ea3546"/>
<rect x="608.96" y="340.08" width="0.9" height="18.84" fill="#1d6fc4"/>
<rect x="608.46" y="340.70" width="1.90" height="13.19" fill="#2292ff"/>
<rect x="611.20" y="335.68" width="0.9" height="6.28" fill="#1d6fc4"/>
<rect x="610.70" y="337.56" width="1.90" height="3.77" fill="#2292ff"/>
<rect x="613.44" y="336.93" width="0.9" height="5.03" fill="#b02e45"/>
<rect x="612.94" y="337.56" width="1.90" height="3.77" fill="#ea3546"/>
<rect x="615.68" y="320.85" width="0.9" height="19.85" fill="#1d6fc4"/>
<rect x="615.18" y="326.26" width="1.90" height="14.45" fill="#2292ff"/>
<rect x="617.92" y="301.36" width="0.9" height="27.64" fill="#1d6fc4"/>
<rect x="617.42" y="301.98" width="1.90" height="23.87" fill="#2292ff"/>
<rect x="620.15" y="288.79" width="0.9" height="25.75" fill="#1d6fc4"/>
<rect x="619.65" y="296.33" width="1.90" height="5.65" fill="#2292ff"/>
<rect x="622.39" y="293.82" width="0.9" height="7.54" fill="#1d6fc4"/>
<rect x="621.89" y="295.08" width="1.90" height="2.51" fill="#2292ff"/>
<rect x="624.63" y="293.19" width="0.9" height="7.54" fill="#1d6fc4"/>
<rect x="624.13" y="297.59" width="1.90" height="1.26" fill="#2292ff"/>
<rect x="626.87" y="296.33" width="0.9" height="8.17" fill="#b02e45"/>
<rect x="626.37" y="297.59" width="1.90" height="4.40" fill="#ea3546"/>
<rect x="629.10" y="298.84" width="0.9" height="11.31" fill="#b02e45"/>
<rect x="628.60" y="300.73" width="1.90" height="6.28" fill="#ea3546"/>
<rect x="631.34" y="296.96" width="0.9" height="11.31" fill="#1d6fc4"/>
<rect x="630.84" y="300.73" width="1.90" height="6.28" fill="#2292ff"/>
<rect x="633.58" y="290.68" width="0.9" height="11.93" fill="#1d6fc4"/>
<rect x="633.08" y="291.31" width="1.90" height="10.68" fill="#2292ff"/>
<rect x="635.82" y="290.05" width="0.9" height="3.77" fill="#b02e45"/>
<rect x="635.32" y="291.31" width="1.90" height="1.88" fill="#ea3546"/>
<rect x="638.05" y="281.26" width="0.9" height="14.45" fill="#1d6fc4"/>
<rect x="637.55" y="285.03" width="1.90" height="10.05" fill="#2292ff"/>
<rect x="640.29" y="280.00" width="0.9" height="6.91" fill="#1d6fc4"/>
<rect x="639.79" y="283.77" width="1.90" height="1.88" fill="#2292ff"/>
<rect x="642.53" y="265.80" width="0.9" height="24.87" fill="#b02e45"/>
<rect x="642.03" y="283.77" width="1.90" height="6.28" fill="#ea3546"/>
<rect x="644.77" y="285.03" width="0.9" height="10.68" fill="#b02e45"/>
<rect x="644.27" y="289.42" width="1.90" height="3.77" fill="#ea3546"/>
<rect x="647.01" y="275.85" width="0.9" height="22.36" fill="#1d6fc4"/>
<rect x="646.51" y="276.48" width="1.90" height="16.08" fill="#2292ff"/>
<rect x="649.24" y="267.69" width="0.9" height="10.05" fill="#1d6fc4"/>
<rect x="648.74" y="272.71" width="1.90" height="4.40" fill="#2292ff"/>
<rect x="651.48" y="272.71" width="0.9" height="19.85" fill="#b02e45"/>
<rect x="650.98" y="277.11" width="1.90" height="13.57" fill="#ea3546"/>
<rect x="653.72" y="290.05" width="0.9" height="5.03" fill="#b02e45"/>
<rect x="653.22" y="290.68" width="1.90" height="2.51" fill="#ea3546"/>
<rect x="655.96" y="282.51" width="0.9" height="13.19" fill="#1d6fc4"/>
<rect x="655.46" y="285.03" width="1.90" height="7.54" fill="#2292ff"/>
<rect x="658.19" y="277.11" width="0.9" height="24.87" fill="#b02e45"/>
<rect x="657.69" y="285.03" width="1.90" height="7.54" fill="#ea3546"/>
<rect x="660.43" y="290.05" width="0.9" height="31.41" fill="#b02e45"/>
<rect x="659.93" y="291.93" width="1.90" height="18.22" fill="#ea3546"/>
<rect x="662.67" y="298.22" width="0.9" height="12.56" fill="#1d6fc4"/>
<rect x="662.17" y="307.01" width="1.90" height="3.14" fill="#2292ff"/>
<rect x="664.91" y="302.61" width="0.9" height="8.17" fill="#b02e45"/>
<rect x="664.41" y="307.01" width="1.90" height="2.51" fill="#ea3546"/>
<rect x="667.14" y="306.38" width="0.9" height="5.65" fill="#1d6fc4"/>
<rect x="666.64" y="307.01" width="1.90" height="2.51" fill="#2292ff"/>
<rect x="669.38" y="287.54" width="0.9" height="23.24" fill="#1d6fc4"/>
<rect x="668.88" y="295.08" width="1.90" height="15.08" fill="#2292ff"/>
<rect x="671.62" y="293.19" width="0.9" height="16.96" fill="#b02e45"/>
<rect x="671.12" y="295.08" width="1.90" height="4.40" fill="#ea3546"/>
<rect x="673.86" y="289.42" width="0.9" height="23.87" fill="#1d6fc4"/>
<rect x="673.36" y="290.05" width="1.90" height="9.42" fill="#2292ff"/>
<rect x="676.10" y="286.28" width="0.9" height="15.08" fill="#b02e45"/>
<rect x="675.60" y="290.05" width="1.90" height="7.54" fill="#ea3546"/>
<rect x="678.33" y="296.96" width="0.9" height="6.28" fill="#b02e45"/>
<rect x="677.83" y="297.59" width="1.90" height="3.14" fill="#ea3546"/>
<rect x="680.57" y="288.17" width="0.9" height="18.84" fill="#1d6fc4"/>
<rect x="680.07" y="291.31" width="1.90" height="9.42" fill="#2292ff"/>
<rect x="682.81" y="285.65" width="0.9" height="30.15" fill="#b02e45"/>
<rect x="682.31" y="290.68" width="1.90" height="5.65" fill="#ea3546"/>
<rect x="685.05" y="291.93" width="0.9" height="11.31" fill="#b02e45"/>
<rect x="684.55" y="295.70" width="1.90" height="3.77" fill="#ea3546"/>
<rect x="687.28" y="277.74" width="0.9" height="24.25" fill="#1d6fc4"/>
<rect x="686.78" y="279.62" width="1.90" height="19.22" fill="#2292ff"/>
<rect x="689.52" y="278.99" width="0.9" height="13.57" fill="#b02e45"/>
<rect x="689.02" y="279.62" width="1.90" height="6.03" fill="#ea3546"/>
<rect x="691.76" y="281.48" width="0.9" height="8.79" fill="#b02e45"/>
<rect x="691.26" y="285.88" width="1.90" height="2.89" fill="#ea3546"/>
<rect x="694.00" y="280.23" width="0.9" height="9.05" fill="#1d6fc4"/>
<rect x="693.50" y="280.23" width="1.90" height="8.79" fill="#2292ff"/>
<rect x="696.23" y="270.18" width="0.9" height="11.31" fill="#1d6fc4"/>
<rect x="695.73" y="277.71" width="1.90" height="3.14" fill="#2292ff"/>
<rect x="698.47" y="265.15" width="0.9" height="15.70" fill="#1d6fc4"/>
<rect x="697.97" y="265.15" width="1.90" height="13.19" fill="#2292ff"/>
<rect x="700.71" y="257.61" width="0.9" height="15.70" fill="#b02e45"/>
<rect x="700.21" y="265.15" width="1.90" height="3.14" fill="#ea3546"/>
<rect x="702.95" y="260.75" width="0.9" height="13.19" fill="#1d6fc4"/>
<rect x="702.45" y="262.01" width="1.90" height="6.28" fill="#2292ff"/>
<rect x="705.19" y="261.38" width="0.9" height="9.42" fill="#b02e45"/>
<rect x="704.69" y="264.52" width="1.90" height="4.40" fill="#ea3546"/>
<rect x="707.42" y="263.89" width="0.9" height="5.65" fill="#1d6fc4"/>
<rect x="706.92" y="267.66" width="1.90" height="1.26" fill="#2292ff"/>
<rect x="709.66" y="255.73" width="0.9" height="14.45" fill="#1d6fc4"/>
<rect x="709.16" y="262.01" width="1.90" height="6.91" fill="#2292ff"/>
<rect x="711.90" y="240.65" width="0.9" height="25.75" fill="#1d6fc4"/>
<rect x="711.40" y="247.56" width="1.90" height="15.08" fill="#2292ff"/>
<rect x="714.14" y="245.68" width="0.9" height="32.66" fill="#b02e45"/>
<rect x="713.64" y="246.93" width="1.90" height="28.27" fill="#ea3546"/>
<rect x="716.37" y="268.92" width="0.9" height="8.17" fill="#1d6fc4"/>
<rect x="715.87" y="270.18" width="1.90" height="5.65" fill="#2292ff"/>
<rect x="718.61" y="265.15" width="0.9" height="10.68" fill="#1d6fc4"/>
<rect x="718.11" y="271.43" width="1.90" height="3.77" fill="#2292ff"/>
<rect x="720.85" y="268.92" width="0.9" height="10.68" fill="#b02e45"/>
<rect x="720.35" y="270.18" width="1.90" height="8.79" fill="#ea3546"/>
<rect x="723.09" y="253.84" width="0.9" height="25.13" fill="#1d6fc4"/>
<rect x="722.59" y="258.24" width="1.90" height="20.10" fill="#2292ff"/>
<rect x="725.32" y="251.96" width="0.9" height="13.82" fill="#1d6fc4"/>
<rect x="724.82" y="253.84" width="1.90" height="4.40" fill="#2292ff"/>
<rect x="727.56" y="245.68" width="0.9" height="15.08" fill="#b02e45"/>
<rect x="727.06" y="253.84" width="1.90" height="4.40" fill="#ea3546"/>
<rect x="729.80" y="256.98" width="0.9" height="11.93" fill="#b02e45"/>
<rect x="729.30" y="257.61" width="1.90" height="10.68" fill="#ea3546"/>
<rect x="732.04" y="264.52" width="0.9" height="6.28" fill="#1d6fc4"/>
<rect x="731.54" y="267.04" width="1.90" height="1.26" fill="#2292ff"/>
<rect x="734.28" y="263.89" width="0.9" height="8.79" fill="#1d6fc4"/>
<rect x="733.78" y="264.52" width="1.90" height="3.14" fill="#2292ff"/>
<rect x="736.51" y="260.75" width="0.9" height="11.31" fill="#22b83a"/>
<rect x="735.76" y="263.89" width="2.40" height="1.26" fill="#22b83a"/>
<rect x="738.75" y="260.13" width="0.9" height="8.79" fill="#b02e45"/>
<rect x="738.25" y="263.89" width="1.90" height="2.51" fill="#ea3546"/>
<rect x="740.99" y="260.75" width="0.9" height="16.33" fill="#b02e45"/>
<rect x="740.49" y="265.15" width="1.90" height="3.14" fill="#ea3546"/>
<rect x="743.23" y="254.47" width="0.9" height="14.45" fill="#1d6fc4"/>
<rect x="742.73" y="260.13" width="1.90" height="8.17" fill="#2292ff"/>
<rect x="745.46" y="253.84" width="0.9" height="6.91" fill="#1d6fc4"/>
<rect x="744.96" y="253.84" width="1.90" height="6.28" fill="#2292ff"/>
<rect x="747.70" y="253.22" width="0.9" height="6.91" fill="#b02e45"/>
<rect x="747.20" y="253.84" width="1.90" height="5.65" fill="#ea3546"/>
<rect x="749.94" y="256.98" width="0.9" height="18.84" fill="#b02e45"/>
<rect x="749.44" y="259.50" width="1.90" height="15.70" fill="#ea3546"/>
<rect x="752.18" y="253.22" width="0.9" height="28.27" fill="#1d6fc4"/>
<rect x="751.68" y="257.61" width="1.90" height="17.59" fill="#2292ff"/>
<rect x="754.41" y="255.10" width="0.9" height="17.59" fill="#b02e45"/>
<rect x="753.91" y="256.98" width="1.90" height="11.93" fill="#ea3546"/>
<rect x="756.65" y="263.27" width="0.9" height="10.05" fill="#1d6fc4"/>
<rect x="756.15" y="263.89" width="1.90" height="5.03" fill="#2292ff"/>
<rect x="758.89" y="256.98" width="0.9" height="11.31" fill="#1d6fc4"/>
<rect x="758.39" y="258.24" width="1.90" height="8.79" fill="#2292ff"/>
<rect x="761.13" y="256.98" width="0.9" height="5.03" fill="#b02e45"/>
<rect x="760.63" y="258.24" width="1.90" height="2.51" fill="#ea3546"/>
<rect x="763.37" y="250.08" width="0.9" height="14.45" fill="#b02e45"/>
<rect x="762.87" y="260.13" width="1.90" height="3.14" fill="#ea3546"/>
<rect x="765.60" y="260.13" width="0.9" height="18.84" fill="#b02e45"/>
<rect x="765.10" y="260.75" width="1.90" height="14.45" fill="#ea3546"/>
<rect x="767.84" y="271.43" width="0.9" height="27.01" fill="#b02e45"/>
<rect x="767.34" y="273.94" width="1.90" height="11.31" fill="#ea3546"/>
<rect x="770.08" y="285.05" width="0.9" height="15.70" fill="#b02e45"/>
<rect x="769.58" y="285.05" width="1.90" height="13.82" fill="#ea3546"/>
<rect x="772.32" y="294.47" width="0.9" height="7.54" fill="#b02e45"/>
<rect x="771.82" y="297.61" width="1.90" height="3.77" fill="#ea3546"/>
<rect x="774.55" y="299.50" width="0.9" height="5.03" fill="#b02e45"/>
<rect x="774.05" y="300.13" width="1.90" height="1.88" fill="#ea3546"/>
<rect x="776.79" y="300.75" width="0.9" height="19.47" fill="#b02e45"/>
<rect x="776.29" y="301.38" width="1.90" height="10.68" fill="#ea3546"/>
<rect x="779.03" y="305.15" width="0.9" height="10.05" fill="#1d6fc4"/>
<rect x="778.53" y="306.41" width="1.90" height="5.65" fill="#2292ff"/>
</g>
<line x1="-3" y1="374.76" x2="986" y2="321.45" stroke="#c2c6ce" stroke-width="0.85" stroke-dasharray="10.3 3.1" stroke-dashoffset="12.0"/>
<rect x="600.5" y="340.4" width="10.5" height="1" fill="#e8eaee"/>
<text x="548.3" y="75.3" font-weight="bold" font-size="14.6px" fill="#ffffff" stroke="#ffffff" stroke-width="0.25" textLength="70" lengthAdjust="spacingAndGlyphs">GBPUSD</text>
<text x="548.3" y="96.5" font-weight="bold" font-size="14.6px" fill="#ffffff" stroke="#ffffff" stroke-width="0.25" textLength="72.3" lengthAdjust="spacingAndGlyphs">H4 Chart</text>
<text class="lbl" x="799.7" y="154.2" fill="#1f90ff" stroke="#1f90ff" textLength="39.7" lengthAdjust="spacingAndGlyphs">1.2925</text>
<text class="lbl" x="786.6" y="238.3" fill="#ffffff" stroke="#ffffff" textLength="39.5" lengthAdjust="spacingAndGlyphs">1.2810</text>
<text class="lbl" x="775.4" y="346.4" fill="#ffffff" stroke="#ffffff" textLength="57.6" lengthAdjust="spacingAndGlyphs">1.2570-80</text>
<text class="lbl" x="810" y="380.8" fill="#1f90ff" stroke="#1f90ff" textLength="39" lengthAdjust="spacingAndGlyphs">1.2480</text>
<g stroke="#ffffff" stroke-width="1.4" fill="none" stroke-linecap="round" stroke-linejoin="round">
<path d="M814 218.5 L830.6 166"/><path d="M827 169.7 L831.2 164.2 L831.6 173.2 L829.4 170 Z" fill="#ffffff" stroke-width="1"/>
<path d="M841 344.3 L847 363"/><path d="M843.4 360.8 L847.6 364.6 L848.3 359.6 L846.4 361.2 Z" fill="#ffffff" stroke-width="0.9"/>
</g>
<g stroke="#f01c24" stroke-width="1.9" fill="none" stroke-linecap="round" stroke-linejoin="round">
<path d="M800.8 326 L819.6 255.8 L833 285"/><path d="M827.6 280.2 L833.7 286.8 L832 276.2 L830.6 279.6 Z" fill="#f01c24" stroke-width="1.3"/>
</g>
<rect x="857.9" y="346.3" width="3.1" height="1.3" fill="#000"/>
<rect x="989.45" y="0" width="1.5" height="438" fill="#707d93"/>
<rect x="990" y="17.20" width="1.9" height="1.1" fill="#a4aebe"/>
<text class="ax" x="993.6" y="20.20" textLength="25.6" lengthAdjust="spacingAndGlyphs">1.33570</text>
<rect x="990" y="44.57" width="1.9" height="1.1" fill="#a4aebe"/>
<text class="ax" x="993.6" y="47.57" textLength="25.6" lengthAdjust="spacingAndGlyphs">1.32900</text>
<rect x="990" y="71.94" width="1.9" height="1.1" fill="#a4aebe"/>
<text class="ax" x="993.6" y="74.94" textLength="25.6" lengthAdjust="spacingAndGlyphs">1.32230</text>
<rect x="990" y="99.31" width="1.9" height="1.1" fill="#a4aebe"/>
<text class="ax" x="993.6" y="102.31" textLength="25.6" lengthAdjust="spacingAndGlyphs">1.31560</text>
<rect x="990" y="126.68" width="1.9" height="1.1" fill="#a4aebe"/>
<text class="ax" x="993.6" y="129.68" textLength="25.6" lengthAdjust="spacingAndGlyphs">1.30900</text>
<rect x="990" y="154.05" width="1.9" height="1.1" fill="#a4aebe"/>
<text class="ax" x="993.6" y="157.05" textLength="25.6" lengthAdjust="spacingAndGlyphs">1.30230</text>
<rect x="990" y="181.42" width="1.9" height="1.1" fill="#a4aebe"/>
<text class="ax" x="993.6" y="184.42" textLength="25.6" lengthAdjust="spacingAndGlyphs">1.29560</text>
<rect x="990" y="208.79" width="1.9" height="1.1" fill="#a4aebe"/>
<text class="ax" x="993.6" y="211.79" textLength="25.6" lengthAdjust="spacingAndGlyphs">1.28890</text>
<rect x="990" y="236.16" width="1.9" height="1.1" fill="#a4aebe"/>
<text class="ax" x="993.6" y="239.16" textLength="25.6" lengthAdjust="spacingAndGlyphs">1.28220</text>
<rect x="990" y="263.53" width="1.9" height="1.1" fill="#a4aebe"/>
<text class="ax" x="993.6" y="266.53" textLength="25.6" lengthAdjust="spacingAndGlyphs">1.27550</text>
<rect x="990" y="290.90" width="1.9" height="1.1" fill="#a4aebe"/>
<text class="ax" x="993.6" y="293.90" textLength="25.6" lengthAdjust="spacingAndGlyphs">1.26890</text>
<rect x="990" y="318.27" width="1.9" height="1.1" fill="#a4aebe"/>
<text class="ax" x="993.6" y="321.27" textLength="25.6" lengthAdjust="spacingAndGlyphs">1.26220</text>
<rect x="990" y="345.64" width="1.9" height="1.1" fill="#a4aebe"/>
<text class="ax" x="993.6" y="348.64" textLength="25.6" lengthAdjust="spacingAndGlyphs">1.25550</text>
<rect x="990" y="373.01" width="1.9" height="1.1" fill="#a4aebe"/>
<text class="ax" x="993.6" y="376.01" textLength="25.6" lengthAdjust="spacingAndGlyphs">1.24880</text>
<rect x="991.1" y="302.9" width="31.1" height="8" fill="#ffffff"/>
<text x="993.8" y="309.6" font-size="7.7px" fill="#1a2438" textLength="25.6" lengthAdjust="spacingAndGlyphs">1.26512</text>
<rect x="0" y="383.4" width="990.8" height="2.5" fill="#8c98aa"/>
<rect x="0" y="414.75" width="990.8" height="2.35" fill="#96a2b1"/>
<g>
<rect x="-0.39" y="387.71" width="2.3" height="10.39" fill="#27a567"/>
<rect x="1.85" y="387.52" width="2.3" height="10.58" fill="#27a567"/>
<rect x="4.09" y="387.34" width="2.3" height="10.76" fill="#27a567"/>
<rect x="6.32" y="387.15" width="2.3" height="10.95" fill="#27a567"/>
<rect x="8.56" y="387.42" width="2.3" height="10.68" fill="#27a567"/>
<rect x="10.80" y="387.70" width="2.3" height="10.40" fill="#27a567"/>
<rect x="13.04" y="388.49" width="2.3" height="9.61" fill="#27a567"/>
<rect x="15.27" y="389.47" width="2.3" height="8.63" fill="#27a567"/>
<rect x="17.51" y="390.46" width="2.3" height="7.64" fill="#27a567"/>
<rect x="19.75" y="390.95" width="2.3" height="7.15" fill="#27a567"/>
<rect x="21.99" y="391.40" width="2.3" height="6.70" fill="#27a567"/>
<rect x="24.22" y="391.83" width="2.3" height="6.27" fill="#27a567"/>
<rect x="26.46" y="392.17" width="2.3" height="5.93" fill="#27a567"/>
<rect x="28.70" y="392.50" width="2.3" height="5.60" fill="#27a567"/>
<rect x="30.94" y="392.84" width="2.3" height="5.26" fill="#27a567"/>
<rect x="33.18" y="393.17" width="2.3" height="4.93" fill="#27a567"/>
<rect x="35.41" y="393.51" width="2.3" height="4.59" fill="#27a567"/>
<rect x="37.65" y="393.79" width="2.3" height="4.31" fill="#27a567"/>
<rect x="39.89" y="394.01" width="2.3" height="4.09" fill="#27a567"/>
<rect x="42.13" y="394.24" width="2.3" height="3.86" fill="#27a567"/>
<rect x="44.36" y="394.46" width="2.3" height="3.64" fill="#27a567"/>
<rect x="46.60" y="394.68" width="2.3" height="3.42" fill="#27a567"/>
<rect x="48.84" y="394.91" width="2.3" height="3.19" fill="#27a567"/>
<rect x="51.08" y="395.13" width="2.3" height="2.97" fill="#27a567"/>
<rect x="53.31" y="395.36" width="2.3" height="2.74" fill="#27a567"/>
<rect x="55.55" y="395.59" width="2.3" height="2.51" fill="#27a567"/>
<rect x="57.79" y="395.98" width="2.3" height="2.12" fill="#27a567"/>
<rect x="60.03" y="396.36" width="2.3" height="1.74" fill="#27a567"/>
<rect x="62.27" y="396.74" width="2.3" height="1.36" fill="#27a567"/>
<rect x="64.50" y="397.24" width="2.3" height="0.86" fill="#27a567"/>
<rect x="66.74" y="398.10" width="2.3" height="1.11" fill="#27a567"/>
<rect x="68.98" y="398.10" width="2.3" height="3.43" fill="#27a567"/>
<rect x="71.22" y="398.10" width="2.3" height="4.10" fill="#27a567"/>
<rect x="73.45" y="398.10" width="2.3" height="4.77" fill="#27a567"/>
<rect x="75.69" y="398.10" width="2.3" height="5.29" fill="#27a567"/>
<rect x="77.93" y="398.10" width="2.3" height="5.74" fill="#27a567"/>
<rect x="80.17" y="398.10" width="2.3" height="6.19" fill="#27a567"/>
<rect x="82.40" y="398.10" width="2.3" height="6.83" fill="#27a567"/>
<rect x="84.64" y="398.10" width="2.3" height="7.50" fill="#27a567"/>
<rect x="86.88" y="398.10" width="2.3" height="8.20" fill="#27a567"/>
<rect x="89.12" y="398.10" width="2.3" height="9.54" fill="#27a567"/>
<rect x="91.36" y="398.10" width="2.3" height="10.88" fill="#27a567"/>
<rect x="93.59" y="398.10" width="2.3" height="12.12" fill="#27a567"/>
<rect x="95.83" y="398.10" width="2.3" height="13.01" fill="#27a567"/>
<rect x="98.07" y="398.10" width="2.3" height="13.91" fill="#27a567"/>
<rect x="100.31" y="398.10" width="2.3" height="14.61" fill="#27a567"/>
<rect x="102.54" y="398.10" width="2.3" height="15.06" fill="#27a567"/>
<rect x="104.78" y="398.10" width="2.3" height="15.51" fill="#27a567"/>
<rect x="107.02" y="398.10" width="2.3" height="15.54" fill="#27a567"/>
<rect x="109.26" y="398.10" width="2.3" height="15.32" fill="#27a567"/>
<rect x="111.49" y="398.10" width="2.3" height="15.09" fill="#27a567"/>
<rect x="113.73" y="398.10" width="2.3" height="14.87" fill="#27a567"/>
<rect x="115.97" y="398.10" width="2.3" height="14.65" fill="#27a567"/>
<rect x="118.21" y="398.10" width="2.3" height="14.42" fill="#27a567"/>
<rect x="120.45" y="398.10" width="2.3" height="14.19" fill="#27a567"/>
<rect x="122.68" y="398.10" width="2.3" height="13.96" fill="#27a567"/>
<rect x="124.92" y="398.10" width="2.3" height="13.73" fill="#27a567"/>
<rect x="127.16" y="398.10" width="2.3" height="13.09" fill="#27a567"/>
<rect x="129.40" y="398.10" width="2.3" height="12.50" fill="#27a567"/>
<rect x="131.63" y="398.10" width="2.3" height="11.92" fill="#27a567"/>
<rect x="133.87" y="398.10" width="2.3" height="11.36" fill="#27a567"/>
<rect x="136.11" y="398.10" width="2.3" height="10.82" fill="#27a567"/>
<rect x="138.35" y="398.10" width="2.3" height="10.28" fill="#27a567"/>
<rect x="140.59" y="398.10" width="2.3" height="9.84" fill="#27a567"/>
<rect x="142.82" y="398.10" width="2.3" height="9.48" fill="#27a567"/>
<rect x="145.06" y="398.10" width="2.3" height="9.12" fill="#27a567"/>
<rect x="147.30" y="398.10" width="2.3" height="8.80" fill="#27a567"/>
<rect x="149.54" y="398.10" width="2.3" height="8.48" fill="#27a567"/>
<rect x="151.77" y="398.10" width="2.3" height="8.17" fill="#27a567"/>
<rect x="154.01" y="398.10" width="2.3" height="7.94" fill="#27a567"/>
<rect x="156.25" y="398.10" width="2.3" height="7.71" fill="#27a567"/>
<rect x="158.49" y="398.10" width="2.3" height="7.48" fill="#27a567"/>
<rect x="160.72" y="398.10" width="2.3" height="7.12" fill="#27a567"/>
<rect x="162.96" y="398.10" width="2.3" height="6.76" fill="#27a567"/>
<rect x="165.20" y="398.10" width="2.3" height="6.42" fill="#27a567"/>
<rect x="167.44" y="398.10" width="2.3" height="6.10" fill="#27a567"/>
<rect x="169.68" y="398.10" width="2.3" height="5.79" fill="#27a567"/>
<rect x="171.91" y="398.10" width="2.3" height="5.52" fill="#27a567"/>
<rect x="174.15" y="398.10" width="2.3" height="5.30" fill="#27a567"/>
<rect x="176.39" y="398.10" width="2.3" height="5.07" fill="#27a567"/>
<rect x="178.63" y="398.10" width="2.3" height="4.91" fill="#27a567"/>
<rect x="180.86" y="398.10" width="2.3" height="4.77" fill="#27a567"/>
<rect x="183.10" y="398.10" width="2.3" height="4.64" fill="#27a567"/>
<rect x="185.34" y="398.10" width="2.3" height="4.47" fill="#27a567"/>
<rect x="187.58" y="398.10" width="2.3" height="4.29" fill="#27a567"/>
<rect x="189.81" y="398.10" width="2.3" height="4.11" fill="#27a567"/>
<rect x="192.05" y="398.10" width="2.3" height="3.88" fill="#27a567"/>
<rect x="194.29" y="398.10" width="2.3" height="3.66" fill="#27a567"/>
<rect x="196.53" y="398.10" width="2.3" height="3.40" fill="#27a567"/>
<rect x="198.77" y="398.10" width="2.3" height="3.04" fill="#27a567"/>
<rect x="201.00" y="398.10" width="2.3" height="2.68" fill="#27a567"/>
<rect x="203.24" y="398.10" width="2.3" height="2.39" fill="#27a567"/>
<rect x="205.48" y="398.10" width="2.3" height="2.16" fill="#27a567"/>
<rect x="207.72" y="398.10" width="2.3" height="1.94" fill="#27a567"/>
<rect x="209.95" y="398.10" width="2.3" height="2.00" fill="#27a567"/>
<rect x="212.19" y="398.10" width="2.3" height="2.23" fill="#27a567"/>
<rect x="214.43" y="398.10" width="2.3" height="3.53" fill="#27a567"/>
<rect x="216.67" y="398.10" width="2.3" height="4.31" fill="#27a567"/>
<rect x="218.90" y="398.10" width="2.3" height="4.98" fill="#27a567"/>
<rect x="221.14" y="398.10" width="2.3" height="5.65" fill="#27a567"/>
<rect x="223.38" y="398.10" width="2.3" height="6.21" fill="#27a567"/>
<rect x="225.62" y="398.10" width="2.3" height="6.77" fill="#27a567"/>
<rect x="227.86" y="398.10" width="2.3" height="6.58" fill="#27a567"/>
<rect x="230.09" y="398.10" width="2.3" height="6.19" fill="#27a567"/>
<rect x="232.33" y="398.10" width="2.3" height="5.76" fill="#27a567"/>
<rect x="234.57" y="398.10" width="2.3" height="5.32" fill="#27a567"/>
<rect x="236.81" y="398.10" width="2.3" height="4.78" fill="#27a567"/>
<rect x="239.04" y="398.10" width="2.3" height="4.03" fill="#27a567"/>
<rect x="241.28" y="398.10" width="2.3" height="3.42" fill="#27a567"/>
<rect x="243.52" y="398.10" width="2.3" height="2.88" fill="#27a567"/>
<rect x="245.76" y="398.10" width="2.3" height="2.34" fill="#27a567"/>
<rect x="247.99" y="398.10" width="2.3" height="1.95" fill="#27a567"/>
<rect x="250.23" y="398.10" width="2.3" height="1.59" fill="#27a567"/>
<rect x="252.47" y="398.10" width="2.3" height="1.23" fill="#27a567"/>
<rect x="254.71" y="398.10" width="2.3" height="0.98" fill="#27a567"/>
<rect x="256.95" y="398.10" width="2.3" height="1.86" fill="#27a567"/>
<rect x="259.18" y="398.10" width="2.3" height="2.53" fill="#27a567"/>
<rect x="261.42" y="398.10" width="2.3" height="3.17" fill="#27a567"/>
<rect x="263.66" y="398.10" width="2.3" height="3.62" fill="#27a567"/>
<rect x="265.90" y="398.10" width="2.3" height="4.07" fill="#27a567"/>
<rect x="268.13" y="398.10" width="2.3" height="4.42" fill="#27a567"/>
<rect x="270.37" y="398.10" width="2.3" height="4.55" fill="#27a567"/>
<rect x="272.61" y="398.10" width="2.3" height="4.68" fill="#27a567"/>
<rect x="274.85" y="398.10" width="2.3" height="4.91" fill="#27a567"/>
<rect x="277.08" y="398.10" width="2.3" height="5.22" fill="#27a567"/>
<rect x="279.32" y="398.10" width="2.3" height="5.54" fill="#27a567"/>
<rect x="281.56" y="398.10" width="2.3" height="5.85" fill="#27a567"/>
<rect x="283.80" y="398.10" width="2.3" height="6.16" fill="#27a567"/>
<rect x="286.04" y="398.10" width="2.3" height="6.48" fill="#27a567"/>
<rect x="288.27" y="398.10" width="2.3" height="6.71" fill="#27a567"/>
<rect x="290.51" y="398.10" width="2.3" height="6.76" fill="#27a567"/>
<rect x="292.75" y="398.10" width="2.3" height="6.20" fill="#27a567"/>
<rect x="294.99" y="398.10" width="2.3" height="5.64" fill="#27a567"/>
<rect x="297.22" y="398.10" width="2.3" height="5.09" fill="#27a567"/>
<rect x="299.46" y="398.10" width="2.3" height="4.53" fill="#27a567"/>
<rect x="301.70" y="398.10" width="2.3" height="4.17" fill="#27a567"/>
<rect x="303.94" y="398.10" width="2.3" height="3.89" fill="#27a567"/>
<rect x="306.17" y="398.10" width="2.3" height="3.64" fill="#27a567"/>
<rect x="308.41" y="398.10" width="2.3" height="3.41" fill="#27a567"/>
<rect x="310.65" y="398.10" width="2.3" height="3.19" fill="#27a567"/>
<rect x="312.89" y="398.10" width="2.3" height="2.97" fill="#27a567"/>
<rect x="315.13" y="398.10" width="2.3" height="2.74" fill="#27a567"/>
<rect x="317.36" y="398.10" width="2.3" height="2.52" fill="#27a567"/>
<rect x="319.60" y="398.10" width="2.3" height="2.33" fill="#27a567"/>
<rect x="321.84" y="398.10" width="2.3" height="2.15" fill="#27a567"/>
<rect x="324.08" y="398.10" width="2.3" height="1.97" fill="#27a567"/>
<rect x="326.31" y="398.10" width="2.3" height="1.80" fill="#27a567"/>
<rect x="328.55" y="398.10" width="2.3" height="1.62" fill="#27a567"/>
<rect x="330.79" y="398.10" width="2.3" height="1.44" fill="#27a567"/>
<rect x="333.03" y="398.10" width="2.3" height="1.26" fill="#27a567"/>
<rect x="335.26" y="398.10" width="2.3" height="1.08" fill="#27a567"/>
<rect x="337.50" y="398.10" width="2.3" height="0.58" fill="#27a567"/>
<rect x="339.74" y="397.79" width="2.3" height="0.50" fill="#27a567"/>
<rect x="341.98" y="397.01" width="2.3" height="1.09" fill="#27a567"/>
<rect x="344.22" y="396.74" width="2.3" height="1.36" fill="#27a567"/>
<rect x="346.45" y="396.46" width="2.3" height="1.64" fill="#27a567"/>
<rect x="348.69" y="397.01" width="2.3" height="1.09" fill="#27a567"/>
<rect x="350.93" y="397.55" width="2.3" height="0.55" fill="#27a567"/>
<rect x="353.17" y="397.92" width="2.3" height="0.50" fill="#27a567"/>
<rect x="355.40" y="398.10" width="2.3" height="1.48" fill="#27a567"/>
<rect x="357.64" y="398.10" width="2.3" height="1.48" fill="#27a567"/>
<rect x="359.88" y="398.10" width="2.3" height="1.38" fill="#27a567"/>
<rect x="362.12" y="398.10" width="2.3" height="1.08" fill="#27a567"/>
<rect x="364.36" y="398.10" width="2.3" height="3.22" fill="#27a567"/>
<rect x="366.59" y="398.10" width="2.3" height="4.34" fill="#27a567"/>
<rect x="368.83" y="398.10" width="2.3" height="5.11" fill="#27a567"/>
<rect x="371.07" y="398.10" width="2.3" height="5.39" fill="#27a567"/>
<rect x="373.31" y="398.10" width="2.3" height="5.58" fill="#27a567"/>
<rect x="375.54" y="398.10" width="2.3" height="5.30" fill="#27a567"/>
<rect x="377.78" y="398.10" width="2.3" height="5.02" fill="#27a567"/>
<rect x="380.02" y="398.10" width="2.3" height="4.46" fill="#27a567"/>
<rect x="382.26" y="398.10" width="2.3" height="3.87" fill="#27a567"/>
<rect x="384.49" y="398.10" width="2.3" height="2.73" fill="#27a567"/>
<rect x="386.73" y="398.10" width="2.3" height="2.21" fill="#27a567"/>
<rect x="388.97" y="398.10" width="2.3" height="1.77" fill="#27a567"/>
<rect x="391.21" y="398.10" width="2.3" height="1.40" fill="#27a567"/>
<rect x="393.45" y="398.10" width="2.3" height="1.18" fill="#27a567"/>
<rect x="395.68" y="398.10" width="2.3" height="0.96" fill="#27a567"/>
<rect x="397.92" y="398.10" width="2.3" height="0.83" fill="#27a567"/>
<rect x="400.16" y="398.10" width="2.3" height="0.70" fill="#27a567"/>
<rect x="402.40" y="398.10" width="2.3" height="0.50" fill="#27a567"/>
<rect x="404.63" y="396.45" width="2.3" height="1.65" fill="#27a567"/>
<rect x="406.87" y="395.48" width="2.3" height="2.62" fill="#27a567"/>
<rect x="409.11" y="395.93" width="2.3" height="2.17" fill="#27a567"/>
<rect x="411.35" y="397.68" width="2.3" height="0.50" fill="#27a567"/>
<rect x="413.58" y="398.10" width="2.3" height="2.11" fill="#27a567"/>
<rect x="415.82" y="398.10" width="2.3" height="3.08" fill="#27a567"/>
<rect x="418.06" y="398.10" width="2.3" height="4.01" fill="#27a567"/>
<rect x="420.30" y="398.10" width="2.3" height="4.90" fill="#27a567"/>
<rect x="422.54" y="398.10" width="2.3" height="4.87" fill="#27a567"/>
<rect x="424.77" y="398.10" width="2.3" height="4.63" fill="#27a567"/>
<rect x="427.01" y="398.10" width="2.3" height="4.03" fill="#27a567"/>
<rect x="429.25" y="398.10" width="2.3" height="3.16" fill="#27a567"/>
<rect x="431.49" y="398.10" width="2.3" height="2.04" fill="#27a567"/>
<rect x="433.72" y="398.10" width="2.3" height="1.02" fill="#27a567"/>
<rect x="435.96" y="398.10" width="2.3" height="0.50" fill="#27a567"/>
<rect x="438.20" y="397.46" width="2.3" height="0.64" fill="#27a567"/>
<rect x="440.44" y="397.78" width="2.3" height="0.50" fill="#27a567"/>
<rect x="442.67" y="398.10" width="2.3" height="0.50" fill="#27a567"/>
<rect x="444.91" y="398.10" width="2.3" height="1.02" fill="#27a567"/>
<rect x="447.15" y="398.10" width="2.3" height="1.53" fill="#27a567"/>
<rect x="449.39" y="398.10" width="2.3" height="1.98" fill="#27a567"/>
<rect x="451.63" y="398.10" width="2.3" height="2.47" fill="#27a567"/>
<rect x="453.86" y="398.10" width="2.3" height="3.03" fill="#27a567"/>
<rect x="456.10" y="398.10" width="2.3" height="3.61" fill="#27a567"/>
<rect x="458.34" y="398.10" width="2.3" height="4.28" fill="#27a567"/>
<rect x="460.58" y="398.10" width="2.3" height="4.95" fill="#27a567"/>
<rect x="462.81" y="398.10" width="2.3" height="5.62" fill="#27a567"/>
<rect x="465.05" y="398.10" width="2.3" height="6.29" fill="#27a567"/>
<rect x="467.29" y="398.10" width="2.3" height="7.38" fill="#27a567"/>
<rect x="469.53" y="398.10" width="2.3" height="8.67" fill="#27a567"/>
<rect x="471.76" y="398.10" width="2.3" height="9.81" fill="#27a567"/>
<rect x="474.00" y="398.10" width="2.3" height="10.76" fill="#27a567"/>
<rect x="476.24" y="398.10" width="2.3" height="11.64" fill="#27a567"/>
<rect x="478.48" y="398.10" width="2.3" height="12.20" fill="#27a567"/>
<rect x="480.72" y="398.10" width="2.3" height="12.76" fill="#27a567"/>
<rect x="482.95" y="398.10" width="2.3" height="13.21" fill="#27a567"/>
<rect x="485.19" y="398.10" width="2.3" height="13.66" fill="#27a567"/>
<rect x="487.43" y="398.10" width="2.3" height="14.11" fill="#27a567"/>
<rect x="489.67" y="398.10" width="2.3" height="14.55" fill="#27a567"/>
<rect x="491.90" y="398.10" width="2.3" height="14.98" fill="#27a567"/>
<rect x="494.14" y="398.10" width="2.3" height="15.37" fill="#27a567"/>
<rect x="496.38" y="398.10" width="2.3" height="15.62" fill="#27a567"/>
<rect x="498.62" y="398.10" width="2.3" height="15.34" fill="#27a567"/>
<rect x="500.85" y="398.10" width="2.3" height="15.06" fill="#27a567"/>
<rect x="503.09" y="398.10" width="2.3" height="14.94" fill="#27a567"/>
<rect x="505.33" y="398.10" width="2.3" height="14.83" fill="#27a567"/>
<rect x="507.57" y="398.10" width="2.3" height="14.76" fill="#27a567"/>
<rect x="509.81" y="398.10" width="2.3" height="14.70" fill="#27a567"/>
<rect x="512.04" y="398.10" width="2.3" height="14.33" fill="#27a567"/>
<rect x="514.28" y="398.10" width="2.3" height="14.17" fill="#27a567"/>
<rect x="516.52" y="398.10" width="2.3" height="13.93" fill="#27a567"/>
<rect x="518.76" y="398.10" width="2.3" height="13.54" fill="#27a567"/>
<rect x="520.99" y="398.10" width="2.3" height="13.13" fill="#27a567"/>
<rect x="523.23" y="398.10" width="2.3" height="12.29" fill="#27a567"/>
<rect x="525.47" y="398.10" width="2.3" height="11.45" fill="#27a567"/>
<rect x="527.71" y="398.10" width="2.3" height="10.61" fill="#27a567"/>
<rect x="529.94" y="398.10" width="2.3" height="9.77" fill="#27a567"/>
<rect x="532.18" y="398.10" width="2.3" height="9.00" fill="#27a567"/>
<rect x="534.42" y="398.10" width="2.3" height="8.27" fill="#27a567"/>
<rect x="536.66" y="398.10" width="2.3" height="7.56" fill="#27a567"/>
<rect x="538.90" y="398.10" width="2.3" height="6.89" fill="#27a567"/>
<rect x="541.13" y="398.10" width="2.3" height="6.22" fill="#27a567"/>
<rect x="543.37" y="398.10" width="2.3" height="5.55" fill="#27a567"/>
<rect x="545.61" y="398.10" width="2.3" height="4.87" fill="#27a567"/>
<rect x="547.85" y="398.10" width="2.3" height="4.48" fill="#27a567"/>
<rect x="550.08" y="398.10" width="2.3" height="4.14" fill="#27a567"/>
<rect x="552.32" y="398.10" width="2.3" height="3.87" fill="#27a567"/>
<rect x="554.56" y="398.10" width="2.3" height="3.64" fill="#27a567"/>
<rect x="556.80" y="398.10" width="2.3" height="3.44" fill="#27a567"/>
<rect x="559.03" y="398.10" width="2.3" height="3.27" fill="#27a567"/>
<rect x="561.27" y="398.10" width="2.3" height="3.16" fill="#27a567"/>
<rect x="563.51" y="398.10" width="2.3" height="3.72" fill="#27a567"/>
<rect x="565.75" y="398.10" width="2.3" height="4.81" fill="#27a567"/>
<rect x="567.99" y="398.10" width="2.3" height="5.93" fill="#27a567"/>
<rect x="570.22" y="398.10" width="2.3" height="7.05" fill="#27a567"/>
<rect x="572.46" y="398.10" width="2.3" height="8.00" fill="#27a567"/>
<rect x="574.70" y="398.10" width="2.3" height="8.84" fill="#27a567"/>
<rect x="576.94" y="398.10" width="2.3" height="9.59" fill="#27a567"/>
<rect x="579.17" y="398.10" width="2.3" height="10.15" fill="#27a567"/>
<rect x="581.41" y="398.10" width="2.3" height="10.58" fill="#27a567"/>
<rect x="583.65" y="398.10" width="2.3" height="9.84" fill="#27a567"/>
<rect x="585.89" y="398.10" width="2.3" height="9.09" fill="#27a567"/>
<rect x="588.13" y="398.10" width="2.3" height="8.35" fill="#27a567"/>
<rect x="590.36" y="398.10" width="2.3" height="7.94" fill="#27a567"/>
<rect x="592.60" y="398.10" width="2.3" height="7.66" fill="#27a567"/>
<rect x="594.84" y="398.10" width="2.3" height="7.38" fill="#27a567"/>
<rect x="597.08" y="398.10" width="2.3" height="7.10" fill="#27a567"/>
<rect x="599.31" y="398.10" width="2.3" height="6.79" fill="#27a567"/>
<rect x="601.55" y="398.10" width="2.3" height="6.40" fill="#27a567"/>
<rect x="603.79" y="398.10" width="2.3" height="6.01" fill="#27a567"/>
<rect x="606.03" y="398.10" width="2.3" height="5.56" fill="#27a567"/>
<rect x="608.26" y="398.10" width="2.3" height="5.12" fill="#27a567"/>
<rect x="610.50" y="398.10" width="2.3" height="4.58" fill="#27a567"/>
<rect x="612.74" y="398.10" width="2.3" height="4.03" fill="#27a567"/>
<rect x="614.98" y="398.10" width="2.3" height="3.19" fill="#27a567"/>
<rect x="617.22" y="398.10" width="2.3" height="1.82" fill="#27a567"/>
<rect x="619.45" y="398.10" width="2.3" height="0.50" fill="#27a567"/>
<rect x="621.69" y="396.01" width="2.3" height="2.09" fill="#27a567"/>
<rect x="623.93" y="395.56" width="2.3" height="2.54" fill="#27a567"/>
<rect x="626.17" y="395.28" width="2.3" height="2.82" fill="#27a567"/>
<rect x="628.40" y="395.00" width="2.3" height="3.10" fill="#27a567"/>
<rect x="630.64" y="394.64" width="2.3" height="3.46" fill="#27a567"/>
<rect x="632.88" y="394.25" width="2.3" height="3.85" fill="#27a567"/>
<rect x="635.12" y="393.75" width="2.3" height="4.35" fill="#27a567"/>
<rect x="637.35" y="393.16" width="2.3" height="4.94" fill="#27a567"/>
<rect x="639.59" y="392.33" width="2.3" height="5.77" fill="#27a567"/>
<rect x="641.83" y="392.05" width="2.3" height="6.05" fill="#27a567"/>
<rect x="644.07" y="391.77" width="2.3" height="6.33" fill="#27a567"/>
<rect x="646.31" y="391.45" width="2.3" height="6.65" fill="#27a567"/>
<rect x="648.54" y="391.24" width="2.3" height="6.86" fill="#27a567"/>
<rect x="650.78" y="391.87" width="2.3" height="6.23" fill="#27a567"/>
<rect x="653.02" y="392.37" width="2.3" height="5.73" fill="#27a567"/>
<rect x="655.26" y="392.81" width="2.3" height="5.29" fill="#27a567"/>
<rect x="657.49" y="393.68" width="2.3" height="4.42" fill="#27a567"/>
<rect x="659.73" y="394.98" width="2.3" height="3.12" fill="#27a567"/>
<rect x="661.97" y="395.62" width="2.3" height="2.48" fill="#27a567"/>
<rect x="664.21" y="396.21" width="2.3" height="1.89" fill="#27a567"/>
<rect x="666.44" y="396.44" width="2.3" height="1.66" fill="#27a567"/>
<rect x="668.68" y="396.66" width="2.3" height="1.44" fill="#27a567"/>
<rect x="670.92" y="396.79" width="2.3" height="1.31" fill="#27a567"/>
<rect x="673.16" y="396.70" width="2.3" height="1.40" fill="#27a567"/>
<rect x="675.40" y="396.61" width="2.3" height="1.49" fill="#27a567"/>
<rect x="677.63" y="396.57" width="2.3" height="1.53" fill="#27a567"/>
<rect x="679.87" y="396.57" width="2.3" height="1.53" fill="#27a567"/>
<rect x="682.11" y="396.57" width="2.3" height="1.53" fill="#27a567"/>
<rect x="684.35" y="396.48" width="2.3" height="1.62" fill="#27a567"/>
<rect x="686.58" y="396.34" width="2.3" height="1.76" fill="#27a567"/>
<rect x="688.82" y="396.21" width="2.3" height="1.89" fill="#27a567"/>
<rect x="691.06" y="395.85" width="2.3" height="2.25" fill="#27a567"/>
<rect x="693.30" y="395.46" width="2.3" height="2.64" fill="#27a567"/>
<rect x="695.53" y="394.96" width="2.3" height="3.14" fill="#27a567"/>
<rect x="697.77" y="394.40" width="2.3" height="3.70" fill="#27a567"/>
<rect x="700.01" y="393.93" width="2.3" height="4.17" fill="#27a567"/>
<rect x="702.25" y="393.59" width="2.3" height="4.51" fill="#27a567"/>
<rect x="704.49" y="393.28" width="2.3" height="4.82" fill="#27a567"/>
<rect x="706.72" y="393.13" width="2.3" height="4.97" fill="#27a567"/>
<rect x="708.96" y="392.73" width="2.3" height="5.37" fill="#27a567"/>
<rect x="711.20" y="392.09" width="2.3" height="6.01" fill="#27a567"/>
<rect x="713.44" y="392.99" width="2.3" height="5.11" fill="#27a567"/>
<rect x="715.67" y="393.52" width="2.3" height="4.58" fill="#27a567"/>
<rect x="717.91" y="393.85" width="2.3" height="4.25" fill="#27a567"/>
<rect x="720.15" y="394.01" width="2.3" height="4.09" fill="#27a567"/>
<rect x="722.39" y="393.90" width="2.3" height="4.20" fill="#27a567"/>
<rect x="724.62" y="393.80" width="2.3" height="4.30" fill="#27a567"/>
<rect x="726.86" y="393.74" width="2.3" height="4.36" fill="#27a567"/>
<rect x="729.10" y="393.68" width="2.3" height="4.42" fill="#27a567"/>
<rect x="731.34" y="394.03" width="2.3" height="4.07" fill="#27a567"/>
<rect x="733.58" y="394.43" width="2.3" height="3.67" fill="#27a567"/>
<rect x="735.81" y="394.71" width="2.3" height="3.39" fill="#27a567"/>
<rect x="738.05" y="394.93" width="2.3" height="3.17" fill="#27a567"/>
<rect x="740.29" y="395.14" width="2.3" height="2.96" fill="#27a567"/>
<rect x="742.53" y="395.31" width="2.3" height="2.79" fill="#27a567"/>
<rect x="744.76" y="395.49" width="2.3" height="2.61" fill="#27a567"/>
<rect x="747.00" y="395.81" width="2.3" height="2.29" fill="#27a567"/>
<rect x="749.24" y="396.21" width="2.3" height="1.89" fill="#27a567"/>
<rect x="751.48" y="396.35" width="2.3" height="1.75" fill="#27a567"/>
<rect x="753.71" y="396.48" width="2.3" height="1.62" fill="#27a567"/>
<rect x="755.95" y="396.60" width="2.3" height="1.50" fill="#27a567"/>
<rect x="758.19" y="396.69" width="2.3" height="1.41" fill="#27a567"/>
<rect x="760.43" y="396.78" width="2.3" height="1.32" fill="#27a567"/>
<rect x="762.67" y="396.94" width="2.3" height="1.16" fill="#27a567"/>
<rect x="764.90" y="397.17" width="2.3" height="0.93" fill="#27a567"/>
<rect x="767.14" y="398.10" width="2.3" height="0.54" fill="#27a567"/>
<rect x="769.38" y="398.10" width="2.3" height="2.18" fill="#27a567"/>
<rect x="771.62" y="398.10" width="2.3" height="3.81" fill="#27a567"/>
<rect x="773.85" y="398.10" width="2.3" height="4.70" fill="#27a567"/>
<rect x="776.09" y="398.10" width="2.3" height="5.49" fill="#27a567"/>
<rect x="778.33" y="398.10" width="2.3" height="6.29" fill="#27a567"/>
<rect x="0.31" y="387.71" width="0.9" height="10.39" fill="#3ce084"/>
<rect x="2.55" y="387.52" width="0.9" height="10.58" fill="#3ce084"/>
<rect x="4.79" y="387.34" width="0.9" height="10.76" fill="#3ce084"/>
<rect x="7.02" y="387.15" width="0.9" height="10.95" fill="#3ce084"/>
<rect x="9.26" y="387.42" width="0.9" height="10.68" fill="#3ce084"/>
<rect x="11.50" y="387.70" width="0.9" height="10.40" fill="#3ce084"/>
<rect x="13.74" y="388.49" width="0.9" height="9.61" fill="#3ce084"/>
<rect x="15.97" y="389.47" width="0.9" height="8.63" fill="#3ce084"/>
<rect x="18.21" y="390.46" width="0.9" height="7.64" fill="#3ce084"/>
<rect x="20.45" y="390.95" width="0.9" height="7.15" fill="#3ce084"/>
<rect x="22.69" y="391.40" width="0.9" height="6.70" fill="#3ce084"/>
<rect x="24.92" y="391.83" width="0.9" height="6.27" fill="#3ce084"/>
<rect x="27.16" y="392.17" width="0.9" height="5.93" fill="#3ce084"/>
<rect x="29.40" y="392.50" width="0.9" height="5.60" fill="#3ce084"/>
<rect x="31.64" y="392.84" width="0.9" height="5.26" fill="#3ce084"/>
<rect x="33.88" y="393.17" width="0.9" height="4.93" fill="#3ce084"/>
<rect x="36.11" y="393.51" width="0.9" height="4.59" fill="#3ce084"/>
<rect x="38.35" y="393.79" width="0.9" height="4.31" fill="#3ce084"/>
<rect x="40.59" y="394.01" width="0.9" height="4.09" fill="#3ce084"/>
<rect x="42.83" y="394.24" width="0.9" height="3.86" fill="#3ce084"/>
<rect x="45.06" y="394.46" width="0.9" height="3.64" fill="#3ce084"/>
<rect x="47.30" y="394.68" width="0.9" height="3.42" fill="#3ce084"/>
<rect x="49.54" y="394.91" width="0.9" height="3.19" fill="#3ce084"/>
<rect x="51.78" y="395.13" width="0.9" height="2.97" fill="#3ce084"/>
<rect x="54.01" y="395.36" width="0.9" height="2.74" fill="#3ce084"/>
<rect x="56.25" y="395.59" width="0.9" height="2.51" fill="#3ce084"/>
<rect x="58.49" y="395.98" width="0.9" height="2.12" fill="#3ce084"/>
<rect x="60.73" y="396.36" width="0.9" height="1.74" fill="#3ce084"/>
<rect x="62.97" y="396.74" width="0.9" height="1.36" fill="#3ce084"/>
<rect x="65.20" y="397.24" width="0.9" height="0.86" fill="#3ce084"/>
<rect x="67.44" y="398.10" width="0.9" height="1.11" fill="#3ce084"/>
<rect x="69.68" y="398.10" width="0.9" height="3.43" fill="#3ce084"/>
<rect x="71.92" y="398.10" width="0.9" height="4.10" fill="#3ce084"/>
<rect x="74.15" y="398.10" width="0.9" height="4.77" fill="#3ce084"/>
<rect x="76.39" y="398.10" width="0.9" height="5.29" fill="#3ce084"/>
<rect x="78.63" y="398.10" width="0.9" height="5.74" fill="#3ce084"/>
<rect x="80.87" y="398.10" width="0.9" height="6.19" fill="#3ce084"/>
<rect x="83.10" y="398.10" width="0.9" height="6.83" fill="#3ce084"/>
<rect x="85.34" y="398.10" width="0.9" height="7.50" fill="#3ce084"/>
<rect x="87.58" y="398.10" width="0.9" height="8.20" fill="#3ce084"/>
<rect x="89.82" y="398.10" width="0.9" height="9.54" fill="#3ce084"/>
<rect x="92.06" y="398.10" width="0.9" height="10.88" fill="#3ce084"/>
<rect x="94.29" y="398.10" width="0.9" height="12.12" fill="#3ce084"/>
<rect x="96.53" y="398.10" width="0.9" height="13.01" fill="#3ce084"/>
<rect x="98.77" y="398.10" width="0.9" height="13.91" fill="#3ce084"/>
<rect x="101.01" y="398.10" width="0.9" height="14.61" fill="#3ce084"/>
<rect x="103.24" y="398.10" width="0.9" height="15.06" fill="#3ce084"/>
<rect x="105.48" y="398.10" width="0.9" height="15.51" fill="#3ce084"/>
<rect x="107.72" y="398.10" width="0.9" height="15.54" fill="#3ce084"/>
<rect x="109.96" y="398.10" width="0.9" height="15.32" fill="#3ce084"/>
<rect x="112.19" y="398.10" width="0.9" height="15.09" fill="#3ce084"/>
<rect x="114.43" y="398.10" width="0.9" height="14.87" fill="#3ce084"/>
<rect x="116.67" y="398.10" width="0.9" height="14.65" fill="#3ce084"/>
<rect x="118.91" y="398.10" width="0.9" height="14.42" fill="#3ce084"/>
<rect x="121.15" y="398.10" width="0.9" height="14.19" fill="#3ce084"/>
<rect x="123.38" y="398.10" width="0.9" height="13.96" fill="#3ce084"/>
<rect x="125.62" y="398.10" width="0.9" height="13.73" fill="#3ce084"/>
<rect x="127.86" y="398.10" width="0.9" height="13.09" fill="#3ce084"/>
<rect x="130.10" y="398.10" width="0.9" height="12.50" fill="#3ce084"/>
<rect x="132.33" y="398.10" width="0.9" height="11.92" fill="#3ce084"/>
<rect x="134.57" y="398.10" width="0.9" height="11.36" fill="#3ce084"/>
<rect x="136.81" y="398.10" width="0.9" height="10.82" fill="#3ce084"/>
<rect x="139.05" y="398.10" width="0.9" height="10.28" fill="#3ce084"/>
<rect x="141.29" y="398.10" width="0.9" height="9.84" fill="#3ce084"/>
<rect x="143.52" y="398.10" width="0.9" height="9.48" fill="#3ce084"/>
<rect x="145.76" y="398.10" width="0.9" height="9.12" fill="#3ce084"/>
<rect x="148.00" y="398.10" width="0.9" height="8.80" fill="#3ce084"/>
<rect x="150.24" y="398.10" width="0.9" height="8.48" fill="#3ce084"/>
<rect x="152.47" y="398.10" width="0.9" height="8.17" fill="#3ce084"/>
<rect x="154.71" y="398.10" width="0.9" height="7.94" fill="#3ce084"/>
<rect x="156.95" y="398.10" width="0.9" height="7.71" fill="#3ce084"/>
<rect x="159.19" y="398.10" width="0.9" height="7.48" fill="#3ce084"/>
<rect x="161.42" y="398.10" width="0.9" height="7.12" fill="#3ce084"/>
<rect x="163.66" y="398.10" width="0.9" height="6.76" fill="#3ce084"/>
<rect x="165.90" y="398.10" width="0.9" height="6.42" fill="#3ce084"/>
<rect x="168.14" y="398.10" width="0.9" height="6.10" fill="#3ce084"/>
<rect x="170.38" y="398.10" width="0.9" height="5.79" fill="#3ce084"/>
<rect x="172.61" y="398.10" width="0.9" height="5.52" fill="#3ce084"/>
<rect x="174.85" y="398.10" width="0.9" height="5.30" fill="#3ce084"/>
<rect x="177.09" y="398.10" width="0.9" height="5.07" fill="#3ce084"/>
<rect x="179.33" y="398.10" width="0.9" height="4.91" fill="#3ce084"/>
<rect x="181.56" y="398.10" width="0.9" height="4.77" fill="#3ce084"/>
<rect x="183.80" y="398.10" width="0.9" height="4.64" fill="#3ce084"/>
<rect x="186.04" y="398.10" width="0.9" height="4.47" fill="#3ce084"/>
<rect x="188.28" y="398.10" width="0.9" height="4.29" fill="#3ce084"/>
<rect x="190.51" y="398.10" width="0.9" height="4.11" fill="#3ce084"/>
<rect x="192.75" y="398.10" width="0.9" height="3.88" fill="#3ce084"/>
<rect x="194.99" y="398.10" width="0.9" height="3.66" fill="#3ce084"/>
<rect x="197.23" y="398.10" width="0.9" height="3.40" fill="#3ce084"/>
<rect x="199.47" y="398.10" width="0.9" height="3.04" fill="#3ce084"/>
<rect x="201.70" y="398.10" width="0.9" height="2.68" fill="#3ce084"/>
<rect x="203.94" y="398.10" width="0.9" height="2.39" fill="#3ce084"/>
<rect x="206.18" y="398.10" width="0.9" height="2.16" fill="#3ce084"/>
<rect x="208.42" y="398.10" width="0.9" height="1.94" fill="#3ce084"/>
<rect x="210.65" y="398.10" width="0.9" height="2.00" fill="#3ce084"/>
<rect x="212.89" y="398.10" width="0.9" height="2.23" fill="#3ce084"/>
<rect x="215.13" y="398.10" width="0.9" height="3.53" fill="#3ce084"/>
<rect x="217.37" y="398.10" width="0.9" height="4.31" fill="#3ce084"/>
<rect x="219.60" y="398.10" width="0.9" height="4.98" fill="#3ce084"/>
<rect x="221.84" y="398.10" width="0.9" height="5.65" fill="#3ce084"/>
<rect x="224.08" y="398.10" width="0.9" height="6.21" fill="#3ce084"/>
<rect x="226.32" y="398.10" width="0.9" height="6.77" fill="#3ce084"/>
<rect x="228.56" y="398.10" width="0.9" height="6.58" fill="#3ce084"/>
<rect x="230.79" y="398.10" width="0.9" height="6.19" fill="#3ce084"/>
<rect x="233.03" y="398.10" width="0.9" height="5.76" fill="#3ce084"/>
<rect x="235.27" y="398.10" width="0.9" height="5.32" fill="#3ce084"/>
<rect x="237.51" y="398.10" width="0.9" height="4.78" fill="#3ce084"/>
<rect x="239.74" y="398.10" width="0.9" height="4.03" fill="#3ce084"/>
<rect x="241.98" y="398.10" width="0.9" height="3.42" fill="#3ce084"/>
<rect x="244.22" y="398.10" width="0.9" height="2.88" fill="#3ce084"/>
<rect x="246.46" y="398.10" width="0.9" height="2.34" fill="#3ce084"/>
<rect x="248.69" y="398.10" width="0.9" height="1.95" fill="#3ce084"/>
<rect x="250.93" y="398.10" width="0.9" height="1.59" fill="#3ce084"/>
<rect x="253.17" y="398.10" width="0.9" height="1.23" fill="#3ce084"/>
<rect x="255.41" y="398.10" width="0.9" height="0.98" fill="#3ce084"/>
<rect x="257.65" y="398.10" width="0.9" height="1.86" fill="#3ce084"/>
<rect x="259.88" y="398.10" width="0.9" height="2.53" fill="#3ce084"/>
<rect x="262.12" y="398.10" width="0.9" height="3.17" fill="#3ce084"/>
<rect x="264.36" y="398.10" width="0.9" height="3.62" fill="#3ce084"/>
<rect x="266.60" y="398.10" width="0.9" height="4.07" fill="#3ce084"/>
<rect x="268.83" y="398.10" width="0.9" height="4.42" fill="#3ce084"/>
<rect x="271.07" y="398.10" width="0.9" height="4.55" fill="#3ce084"/>
<rect x="273.31" y="398.10" width="0.9" height="4.68" fill="#3ce084"/>
<rect x="275.55" y="398.10" width="0.9" height="4.91" fill="#3ce084"/>
<rect x="277.78" y="398.10" width="0.9" height="5.22" fill="#3ce084"/>
<rect x="280.02" y="398.10" width="0.9" height="5.54" fill="#3ce084"/>
<rect x="282.26" y="398.10" width="0.9" height="5.85" fill="#3ce084"/>
<rect x="284.50" y="398.10" width="0.9" height="6.16" fill="#3ce084"/>
<rect x="286.74" y="398.10" width="0.9" height="6.48" fill="#3ce084"/>
<rect x="288.97" y="398.10" width="0.9" height="6.71" fill="#3ce084"/>
<rect x="291.21" y="398.10" width="0.9" height="6.76" fill="#3ce084"/>
<rect x="293.45" y="398.10" width="0.9" height="6.20" fill="#3ce084"/>
<rect x="295.69" y="398.10" width="0.9" height="5.64" fill="#3ce084"/>
<rect x="297.92" y="398.10" width="0.9" height="5.09" fill="#3ce084"/>
<rect x="300.16" y="398.10" width="0.9" height="4.53" fill="#3ce084"/>
<rect x="302.40" y="398.10" width="0.9" height="4.17" fill="#3ce084"/>
<rect x="304.64" y="398.10" width="0.9" height="3.89" fill="#3ce084"/>
<rect x="306.87" y="398.10" width="0.9" height="3.64" fill="#3ce084"/>
<rect x="309.11" y="398.10" width="0.9" height="3.41" fill="#3ce084"/>
<rect x="311.35" y="398.10" width="0.9" height="3.19" fill="#3ce084"/>
<rect x="313.59" y="398.10" width="0.9" height="2.97" fill="#3ce084"/>
<rect x="315.83" y="398.10" width="0.9" height="2.74" fill="#3ce084"/>
<rect x="318.06" y="398.10" width="0.9" height="2.52" fill="#3ce084"/>
<rect x="320.30" y="398.10" width="0.9" height="2.33" fill="#3ce084"/>
<rect x="322.54" y="398.10" width="0.9" height="2.15" fill="#3ce084"/>
<rect x="324.78" y="398.10" width="0.9" height="1.97" fill="#3ce084"/>
<rect x="327.01" y="398.10" width="0.9" height="1.80" fill="#3ce084"/>
<rect x="329.25" y="398.10" width="0.9" height="1.62" fill="#3ce084"/>
<rect x="331.49" y="398.10" width="0.9" height="1.44" fill="#3ce084"/>
<rect x="333.73" y="398.10" width="0.9" height="1.26" fill="#3ce084"/>
<rect x="335.96" y="398.10" width="0.9" height="1.08" fill="#3ce084"/>
<rect x="338.20" y="398.10" width="0.9" height="0.58" fill="#3ce084"/>
<rect x="340.44" y="397.79" width="0.9" height="0.50" fill="#3ce084"/>
<rect x="342.68" y="397.01" width="0.9" height="1.09" fill="#3ce084"/>
<rect x="344.92" y="396.74" width="0.9" height="1.36" fill="#3ce084"/>
<rect x="347.15" y="396.46" width="0.9" height="1.64" fill="#3ce084"/>
<rect x="349.39" y="397.01" width="0.9" height="1.09" fill="#3ce084"/>
<rect x="351.63" y="397.55" width="0.9" height="0.55" fill="#3ce084"/>
<rect x="353.87" y="397.92" width="0.9" height="0.50" fill="#3ce084"/>
<rect x="356.10" y="398.10" width="0.9" height="1.48" fill="#3ce084"/>
<rect x="358.34" y="398.10" width="0.9" height="1.48" fill="#3ce084"/>
<rect x="360.58" y="398.10" width="0.9" height="1.38" fill="#3ce084"/>
<rect x="362.82" y="398.10" width="0.9" height="1.08" fill="#3ce084"/>
<rect x="365.06" y="398.10" width="0.9" height="3.22" fill="#3ce084"/>
<rect x="367.29" y="398.10" width="0.9" height="4.34" fill="#3ce084"/>
<rect x="369.53" y="398.10" width="0.9" height="5.11" fill="#3ce084"/>
<rect x="371.77" y="398.10" width="0.9" height="5.39" fill="#3ce084"/>
<rect x="374.01" y="398.10" width="0.9" height="5.58" fill="#3ce084"/>
<rect x="376.24" y="398.10" width="0.9" height="5.30" fill="#3ce084"/>
<rect x="378.48" y="398.10" width="0.9" height="5.02" fill="#3ce084"/>
<rect x="380.72" y="398.10" width="0.9" height="4.46" fill="#3ce084"/>
<rect x="382.96" y="398.10" width="0.9" height="3.87" fill="#3ce084"/>
<rect x="385.19" y="398.10" width="0.9" height="2.73" fill="#3ce084"/>
<rect x="387.43" y="398.10" width="0.9" height="2.21" fill="#3ce084"/>
<rect x="389.67" y="398.10" width="0.9" height="1.77" fill="#3ce084"/>
<rect x="391.91" y="398.10" width="0.9" height="1.40" fill="#3ce084"/>
<rect x="394.15" y="398.10" width="0.9" height="1.18" fill="#3ce084"/>
<rect x="396.38" y="398.10" width="0.9" height="0.96" fill="#3ce084"/>
<rect x="398.62" y="398.10" width="0.9" height="0.83" fill="#3ce084"/>
<rect x="400.86" y="398.10" width="0.9" height="0.70" fill="#3ce084"/>
<rect x="403.10" y="398.10" width="0.9" height="0.50" fill="#3ce084"/>
<rect x="405.33" y="396.45" width="0.9" height="1.65" fill="#3ce084"/>
<rect x="407.57" y="395.48" width="0.9" height="2.62" fill="#3ce084"/>
<rect x="409.81" y="395.93" width="0.9" height="2.17" fill="#3ce084"/>
<rect x="412.05" y="397.68" width="0.9" height="0.50" fill="#3ce084"/>
<rect x="414.28" y="398.10" width="0.9" height="2.11" fill="#3ce084"/>
<rect x="416.52" y="398.10" width="0.9" height="3.08" fill="#3ce084"/>
<rect x="418.76" y="398.10" width="0.9" height="4.01" fill="#3ce084"/>
<rect x="421.00" y="398.10" width="0.9" height="4.90" fill="#3ce084"/>
<rect x="423.24" y="398.10" width="0.9" height="4.87" fill="#3ce084"/>
<rect x="425.47" y="398.10" width="0.9" height="4.63" fill="#3ce084"/>
<rect x="427.71" y="398.10" width="0.9" height="4.03" fill="#3ce084"/>
<rect x="429.95" y="398.10" width="0.9" height="3.16" fill="#3ce084"/>
<rect x="432.19" y="398.10" width="0.9" height="2.04" fill="#3ce084"/>
<rect x="434.42" y="398.10" width="0.9" height="1.02" fill="#3ce084"/>
<rect x="436.66" y="398.10" width="0.9" height="0.50" fill="#3ce084"/>
<rect x="438.90" y="397.46" width="0.9" height="0.64" fill="#3ce084"/>
<rect x="441.14" y="397.78" width="0.9" height="0.50" fill="#3ce084"/>
<rect x="443.37" y="398.10" width="0.9" height="0.50" fill="#3ce084"/>
<rect x="445.61" y="398.10" width="0.9" height="1.02" fill="#3ce084"/>
<rect x="447.85" y="398.10" width="0.9" height="1.53" fill="#3ce084"/>
<rect x="450.09" y="398.10" width="0.9" height="1.98" fill="#3ce084"/>
<rect x="452.33" y="398.10" width="0.9" height="2.47" fill="#3ce084"/>
<rect x="454.56" y="398.10" width="0.9" height="3.03" fill="#3ce084"/>
<rect x="456.80" y="398.10" width="0.9" height="3.61" fill="#3ce084"/>
<rect x="459.04" y="398.10" width="0.9" height="4.28" fill="#3ce084"/>
<rect x="461.28" y="398.10" width="0.9" height="4.95" fill="#3ce084"/>
<rect x="463.51" y="398.10" width="0.9" height="5.62" fill="#3ce084"/>
<rect x="465.75" y="398.10" width="0.9" height="6.29" fill="#3ce084"/>
<rect x="467.99" y="398.10" width="0.9" height="7.38" fill="#3ce084"/>
<rect x="470.23" y="398.10" width="0.9" height="8.67" fill="#3ce084"/>
<rect x="472.46" y="398.10" width="0.9" height="9.81" fill="#3ce084"/>
<rect x="474.70" y="398.10" width="0.9" height="10.76" fill="#3ce084"/>
<rect x="476.94" y="398.10" width="0.9" height="11.64" fill="#3ce084"/>
<rect x="479.18" y="398.10" width="0.9" height="12.20" fill="#3ce084"/>
<rect x="481.42" y="398.10" width="0.9" height="12.76" fill="#3ce084"/>
<rect x="483.65" y="398.10" width="0.9" height="13.21" fill="#3ce084"/>
<rect x="485.89" y="398.10" width="0.9" height="13.66" fill="#3ce084"/>
<rect x="488.13" y="398.10" width="0.9" height="14.11" fill="#3ce084"/>
<rect x="490.37" y="398.10" width="0.9" height="14.55" fill="#3ce084"/>
<rect x="492.60" y="398.10" width="0.9" height="14.98" fill="#3ce084"/>
<rect x="494.84" y="398.10" width="0.9" height="15.37" fill="#3ce084"/>
<rect x="497.08" y="398.10" width="0.9" height="15.62" fill="#3ce084"/>
<rect x="499.32" y="398.10" width="0.9" height="15.34" fill="#3ce084"/>
<rect x="501.55" y="398.10" width="0.9" height="15.06" fill="#3ce084"/>
<rect x="503.79" y="398.10" width="0.9" height="14.94" fill="#3ce084"/>
<rect x="506.03" y="398.10" width="0.9" height="14.83" fill="#3ce084"/>
<rect x="508.27" y="398.10" width="0.9" height="14.76" fill="#3ce084"/>
<rect x="510.51" y="398.10" width="0.9" height="14.70" fill="#3ce084"/>
<rect x="512.74" y="398.10" width="0.9" height="14.33" fill="#3ce084"/>
<rect x="514.98" y="398.10" width="0.9" height="14.17" fill="#3ce084"/>
<rect x="517.22" y="398.10" width="0.9" height="13.93" fill="#3ce084"/>
<rect x="519.46" y="398.10" width="0.9" height="13.54" fill="#3ce084"/>
<rect x="521.69" y="398.10" width="0.9" height="13.13" fill="#3ce084"/>
<rect x="523.93" y="398.10" width="0.9" height="12.29" fill="#3ce084"/>
<rect x="526.17" y="398.10" width="0.9" height="11.45" fill="#3ce084"/>
<rect x="528.41" y="398.10" width="0.9" height="10.61" fill="#3ce084"/>
<rect x="530.64" y="398.10" width="0.9" height="9.77" fill="#3ce084"/>
<rect x="532.88" y="398.10" width="0.9" height="9.00" fill="#3ce084"/>
<rect x="535.12" y="398.10" width="0.9" height="8.27" fill="#3ce084"/>
<rect x="537.36" y="398.10" width="0.9" height="7.56" fill="#3ce084"/>
<rect x="539.60" y="398.10" width="0.9" height="6.89" fill="#3ce084"/>
<rect x="541.83" y="398.10" width="0.9" height="6.22" fill="#3ce084"/>
<rect x="544.07" y="398.10" width="0.9" height="5.55" fill="#3ce084"/>
<rect x="546.31" y="398.10" width="0.9" height="4.87" fill="#3ce084"/>
<rect x="548.55" y="398.10" width="0.9" height="4.48" fill="#3ce084"/>
<rect x="550.78" y="398.10" width="0.9" height="4.14" fill="#3ce084"/>
<rect x="553.02" y="398.10" width="0.9" height="3.87" fill="#3ce084"/>
<rect x="555.26" y="398.10" width="0.9" height="3.64" fill="#3ce084"/>
<rect x="557.50" y="398.10" width="0.9" height="3.44" fill="#3ce084"/>
<rect x="559.73" y="398.10" width="0.9" height="3.27" fill="#3ce084"/>
<rect x="561.97" y="398.10" width="0.9" height="3.16" fill="#3ce084"/>
<rect x="564.21" y="398.10" width="0.9" height="3.72" fill="#3ce084"/>
<rect x="566.45" y="398.10" width="0.9" height="4.81" fill="#3ce084"/>
<rect x="568.69" y="398.10" width="0.9" height="5.93" fill="#3ce084"/>
<rect x="570.92" y="398.10" width="0.9" height="7.05" fill="#3ce084"/>
<rect x="573.16" y="398.10" width="0.9" height="8.00" fill="#3ce084"/>
<rect x="575.40" y="398.10" width="0.9" height="8.84" fill="#3ce084"/>
<rect x="577.64" y="398.10" width="0.9" height="9.59" fill="#3ce084"/>
<rect x="579.87" y="398.10" width="0.9" height="10.15" fill="#3ce084"/>
<rect x="582.11" y="398.10" width="0.9" height="10.58" fill="#3ce084"/>
<rect x="584.35" y="398.10" width="0.9" height="9.84" fill="#3ce084"/>
<rect x="586.59" y="398.10" width="0.9" height="9.09" fill="#3ce084"/>
<rect x="588.83" y="398.10" width="0.9" height="8.35" fill="#3ce084"/>
<rect x="591.06" y="398.10" width="0.9" height="7.94" fill="#3ce084"/>
<rect x="593.30" y="398.10" width="0.9" height="7.66" fill="#3ce084"/>
<rect x="595.54" y="398.10" width="0.9" height="7.38" fill="#3ce084"/>
<rect x="597.78" y="398.10" width="0.9" height="7.10" fill="#3ce084"/>
<rect x="600.01" y="398.10" width="0.9" height="6.79" fill="#3ce084"/>
<rect x="602.25" y="398.10" width="0.9" height="6.40" fill="#3ce084"/>
<rect x="604.49" y="398.10" width="0.9" height="6.01" fill="#3ce084"/>
<rect x="606.73" y="398.10" width="0.9" height="5.56" fill="#3ce084"/>
<rect x="608.96" y="398.10" width="0.9" height="5.12" fill="#3ce084"/>
<rect x="611.20" y="398.10" width="0.9" height="4.58" fill="#3ce084"/>
<rect x="613.44" y="398.10" width="0.9" height="4.03" fill="#3ce084"/>
<rect x="615.68" y="398.10" width="0.9" height="3.19" fill="#3ce084"/>
<rect x="617.92" y="398.10" width="0.9" height="1.82" fill="#3ce084"/>
<rect x="620.15" y="398.10" width="0.9" height="0.50" fill="#3ce084"/>
<rect x="622.39" y="396.01" width="0.9" height="2.09" fill="#3ce084"/>
<rect x="624.63" y="395.56" width="0.9" height="2.54" fill="#3ce084"/>
<rect x="626.87" y="395.28" width="0.9" height="2.82" fill="#3ce084"/>
<rect x="629.10" y="395.00" width="0.9" height="3.10" fill="#3ce084"/>
<rect x="631.34" y="394.64" width="0.9" height="3.46" fill="#3ce084"/>
<rect x="633.58" y="394.25" width="0.9" height="3.85" fill="#3ce084"/>
<rect x="635.82" y="393.75" width="0.9" height="4.35" fill="#3ce084"/>
<rect x="638.05" y="393.16" width="0.9" height="4.94" fill="#3ce084"/>
<rect x="640.29" y="392.33" width="0.9" height="5.77" fill="#3ce084"/>
<rect x="642.53" y="392.05" width="0.9" height="6.05" fill="#3ce084"/>
<rect x="644.77" y="391.77" width="0.9" height="6.33" fill="#3ce084"/>
<rect x="647.01" y="391.45" width="0.9" height="6.65" fill="#3ce084"/>
<rect x="649.24" y="391.24" width="0.9" height="6.86" fill="#3ce084"/>
<rect x="651.48" y="391.87" width="0.9" height="6.23" fill="#3ce084"/>
<rect x="653.72" y="392.37" width="0.9" height="5.73" fill="#3ce084"/>
<rect x="655.96" y="392.81" width="0.9" height="5.29" fill="#3ce084"/>
<rect x="658.19" y="393.68" width="0.9" height="4.42" fill="#3ce084"/>
<rect x="660.43" y="394.98" width="0.9" height="3.12" fill="#3ce084"/>
<rect x="662.67" y="395.62" width="0.9" height="2.48" fill="#3ce084"/>
<rect x="664.91" y="396.21" width="0.9" height="1.89" fill="#3ce084"/>
<rect x="667.14" y="396.44" width="0.9" height="1.66" fill="#3ce084"/>
<rect x="669.38" y="396.66" width="0.9" height="1.44" fill="#3ce084"/>
<rect x="671.62" y="396.79" width="0.9" height="1.31" fill="#3ce084"/>
<rect x="673.86" y="396.70" width="0.9" height="1.40" fill="#3ce084"/>
<rect x="676.10" y="396.61" width="0.9" height="1.49" fill="#3ce084"/>
<rect x="678.33" y="396.57" width="0.9" height="1.53" fill="#3ce084"/>
<rect x="680.57" y="396.57" width="0.9" height="1.53" fill="#3ce084"/>
<rect x="682.81" y="396.57" width="0.9" height="1.53" fill="#3ce084"/>
<rect x="685.05" y="396.48" width="0.9" height="1.62" fill="#3ce084"/>
<rect x="687.28" y="396.34" width="0.9" height="1.76" fill="#3ce084"/>
<rect x="689.52" y="396.21" width="0.9" height="1.89" fill="#3ce084"/>
<rect x="691.76" y="395.85" width="0.9" height="2.25" fill="#3ce084"/>
<rect x="694.00" y="395.46" width="0.9" height="2.64" fill="#3ce084"/>
<rect x="696.23" y="394.96" width="0.9" height="3.14" fill="#3ce084"/>
<rect x="698.47" y="394.40" width="0.9" height="3.70" fill="#3ce084"/>
<rect x="700.71" y="393.93" width="0.9" height="4.17" fill="#3ce084"/>
<rect x="702.95" y="393.59" width="0.9" height="4.51" fill="#3ce084"/>
<rect x="705.19" y="393.28" width="0.9" height="4.82" fill="#3ce084"/>
<rect x="707.42" y="393.13" width="0.9" height="4.97" fill="#3ce084"/>
<rect x="709.66" y="392.73" width="0.9" height="5.37" fill="#3ce084"/>
<rect x="711.90" y="392.09" width="0.9" height="6.01" fill="#3ce084"/>
<rect x="714.14" y="392.99" width="0.9" height="5.11" fill="#3ce084"/>
<rect x="716.37" y="393.52" width="0.9" height="4.58" fill="#3ce084"/>
<rect x="718.61" y="393.85" width="0.9" height="4.25" fill="#3ce084"/>
<rect x="720.85" y="394.01" width="0.9" height="4.09" fill="#3ce084"/>
<rect x="723.09" y="393.90" width="0.9" height="4.20" fill="#3ce084"/>
<rect x="725.32" y="393.80" width="0.9" height="4.30" fill="#3ce084"/>
<rect x="727.56" y="393.74" width="0.9" height="4.36" fill="#3ce084"/>
<rect x="729.80" y="393.68" width="0.9" height="4.42" fill="#3ce084"/>
<rect x="732.04" y="394.03" width="0.9" height="4.07" fill="#3ce084"/>
<rect x="734.28" y="394.43" width="0.9" height="3.67" fill="#3ce084"/>
<rect x="736.51" y="394.71" width="0.9" height="3.39" fill="#3ce084"/>
<rect x="738.75" y="394.93" width="0.9" height="3.17" fill="#3ce084"/>
<rect x="740.99" y="395.14" width="0.9" height="2.96" fill="#3ce084"/>
<rect x="743.23" y="395.31" width="0.9" height="2.79" fill="#3ce084"/>
<rect x="745.46" y="395.49" width="0.9" height="2.61" fill="#3ce084"/>
<rect x="747.70" y="395.81" width="0.9" height="2.29" fill="#3ce084"/>
<rect x="749.94" y="396.21" width="0.9" height="1.89" fill="#3ce084"/>
<rect x="752.18" y="396.35" width="0.9" height="1.75" fill="#3ce084"/>
<rect x="754.41" y="396.48" width="0.9" height="1.62" fill="#3ce084"/>
<rect x="756.65" y="396.60" width="0.9" height="1.50" fill="#3ce084"/>
<rect x="758.89" y="396.69" width="0.9" height="1.41" fill="#3ce084"/>
<rect x="761.13" y="396.78" width="0.9" height="1.32" fill="#3ce084"/>
<rect x="763.37" y="396.94" width="0.9" height="1.16" fill="#3ce084"/>
<rect x="765.60" y="397.17" width="0.9" height="0.93" fill="#3ce084"/>
<rect x="767.84" y="398.10" width="0.9" height="0.54" fill="#3ce084"/>
<rect x="770.08" y="398.10" width="0.9" height="2.18" fill="#3ce084"/>
<rect x="772.32" y="398.10" width="0.9" height="3.81" fill="#3ce084"/>
<rect x="774.55" y="398.10" width="0.9" height="4.70" fill="#3ce084"/>
<rect x="776.79" y="398.10" width="0.9" height="5.49" fill="#3ce084"/>
<rect x="779.03" y="398.10" width="0.9" height="6.29" fill="#3ce084"/>
</g>
<polyline fill="none" stroke="#c03040" stroke-width="0.7" points="0.0,388.7 12.6,388.0 25.1,391.2 37.7,393.1 50.3,393.7 62.8,394.3 75.4,399.3 87.9,404.4 100.5,408.1 113.1,412.5 127.9,412.6 128.0,412.5 140.6,409.1 153.1,406.9 165.7,405.6 178.3,404.1 190.8,402.8 203.4,401.6 210.9,400.6 215.9,401.0 222.2,401.6 228.5,403.1 234.8,403.7 241.1,403.5 247.3,401.8 255.9,400.0 256.0,400.0 268.6,401.6 281.1,402.8 293.7,403.7 306.3,403.4 312.5,402.1 318.8,401.2 331.4,400.3 337.7,399.3 343.9,398.3 350.2,397.8 356.5,397.8 362.8,398.3 369.1,400.0 375.3,401.8 383.9,402.8 384.0,402.8 390.3,401.8 396.6,400.3 402.8,399.1 409.1,398.1 415.4,398.1 421.7,399.3 428.0,401.2 434.3,402.5 440.5,400.6 446.8,399.1 453.1,399.1 459.4,400.3 465.7,401.6 471.9,404.1 478.2,406.2 484.5,408.8 490.8,410.9 497.1,412.5 503.3,412.9 511.9,412.8 512.0,412.8 518.3,412.5 524.6,411.3 530.8,409.6 537.1,407.9 543.4,405.6 549.7,403.7 556.0,402.8 564.8,401.8 568.5,402.5 574.8,403.7 581.1,405.4 587.4,406.6 593.7,406.9 599.9,405.9 606.2,405.0 612.5,404.1 618.8,402.5 625.1,400.3 631.3,397.8 637.6,395.6 639.9,394.6 640.0,394.3 646.3,392.4 652.6,392.0 661.4,392.4 668.9,394.3 677.7,396.2 686.5,396.6 694.0,396.2 702.8,394.9 710.4,393.3 717.9,392.8 727.9,393.3 735.5,394.1 743.0,394.6 749.5,394.9 750.0,394.9 757.5,395.6 765.1,396.2 771.4,397.8 778.9,399.1"/>
<text x="-2" y="394.4" font-size="7.8px" fill="#d0d6e0">9)</text>
<text x="9.4" y="394.4" font-size="7.8px" fill="#d0d6e0" textLength="64.2" lengthAdjust="spacingAndGlyphs">-0.002150 -0.000497</text>
<rect x="990" y="390.10" width="1.9" height="1.1" fill="#a4aebe"/>
<text class="ax" x="992.4" y="393.20" textLength="30.2" lengthAdjust="spacingAndGlyphs">0.005348</text>
<rect x="990" y="398.10" width="1.9" height="1.1" fill="#a4aebe"/>
<text class="ax" x="993.8" y="401.20" textLength="13.4" lengthAdjust="spacingAndGlyphs">0.00</text>
<rect x="990" y="410.10" width="1.9" height="1.1" fill="#a4aebe"/>
<text class="ax" x="992.4" y="413.20" textLength="27.0" lengthAdjust="spacingAndGlyphs">-0.0068</text>
<line x1="0" y1="423.8" x2="990" y2="423.8" stroke="#aab2c0" stroke-width="1" stroke-dasharray="1.55 1.82"/>
<line x1="0" y1="432.4" x2="990" y2="432.4" stroke="#aab2c0" stroke-width="1" stroke-dasharray="1.55 1.82"/>
<polyline fill="none" stroke="#1a4ab0" stroke-width="1.15" stroke-linejoin="round" points="10.7,423.8 18.8,428.5 31.4,424.5 37.7,427.0 40.8,425.5 47.7,427.6 51.5,426.3 60.3,428.2 62.8,427.2 70.4,431.4 79.1,429.7 87.9,430.7 93.0,434.3 100.5,433.3 106.8,431.7 109.3,432.6 113.1,431.4 120.6,432.0 127.9,431.2 128.0,431.4 134.3,430.7 140.6,430.5 144.3,431.4 148.1,430.5 153.1,431.4 159.4,430.7 164.4,432.2 166.9,430.5 172.0,429.5 178.3,429.5 182.0,430.5 185.8,429.5 189.6,430.5 193.3,429.2 195.8,428.5 197.7,429.5 201.5,426.7 205.9,427.6 210.9,428.2 213.4,431.4 215.9,430.1 219.7,431.0 223.5,431.4 226.0,432.2 229.8,429.5 234.8,429.2 238.6,427.6 242.3,426.7 244.8,427.2 247.3,426.6 252.4,427.6 255.9,428.5 256.0,429.5 258.5,431.4 262.3,431.4 265.4,429.7 268.6,431.7 272.3,429.7 274.8,430.5 278.6,429.2 282.4,430.5 286.2,432.2 289.3,432.2 292.4,430.5 296.2,428.5 298.7,429.2 301.2,428.2 305.0,428.5 309.4,426.7 312.5,428.0 316.3,430.1 318.8,429.5 323.2,426.7 327.6,428.0 331.4,428.9 335.1,427.2 338.9,425.7 342.7,425.5 345.2,426.7 347.7,426.0 349.6,429.7 352.1,427.2 356.5,429.5 361.5,428.5 364.0,428.9 365.9,431.4 369.1,430.7 372.8,430.5 376.6,428.2 380.4,428.9 383.9,427.2 384.0,427.2 389.0,427.0 392.8,428.2 397.8,428.2 401.6,427.0 404.7,426.3 407.2,424.2 409.8,427.0 412.3,430.7 414.8,429.5 417.3,430.5 419.8,429.5 421.7,430.5 425.5,428.5 427.3,429.5 431.1,426.3 434.3,426.7 440.5,427.2 443.0,428.5 446.2,430.1 450.6,429.5 454.4,429.7 458.1,431.0 461.9,430.5 465.7,430.7 469.4,432.0 472.6,434.5 475.7,433.5 480.7,433.5 483.2,432.6 485.8,433.9 489.5,433.5 493.3,434.5 497.1,434.8 499.6,431.4 502.7,432.6 506.5,431.7 509.6,432.6 511.9,432.2 512.0,433.0 515.8,433.5 518.3,432.6 523.9,432.2 526.4,429.7 530.8,429.5 535.2,431.4 540.3,428.2 544.7,428.0 549.7,428.5 553.5,429.7 558.5,429.2 562.3,430.5 564.1,429.7 567.3,432.0 571.7,432.2 576.1,434.3 579.8,432.6 582.4,433.0 584.2,429.7 588.6,429.2 591.1,428.2 593.7,430.5 595.5,429.5 598.1,430.7 602.5,428.5 606.2,429.7 611.2,428.5 615.0,427.6 618.8,425.5 623.8,425.1 630.1,426.3 635.1,425.1 639.9,424.2 640.0,424.5 643.8,426.3 648.8,424.2 651.9,427.2 656.3,426.3 661.4,428.5 667.6,428.5 670.2,427.0 674.5,426.7 678.3,428.2 681.5,427.2 684.6,428.2 687.1,426.3 691.5,427.2 695.9,425.7 699.0,424.2 700.9,425.1 702.8,424.2 706.0,426.3 709.7,425.5 712.2,424.2 714.1,427.2 719.1,427.0 721.7,427.6 724.8,425.7 730.5,427.2 740.5,427.2 745.5,426.0 749.5,428.0 750.0,428.0 752.5,427.0 755.7,428.5 758.8,427.0 761.9,426.7 766.3,429.2 772.6,431.4 778.9,431.7"/>
<text x="-3" y="425" font-size="7.6px" fill="#d0d6e0">782</text>
<text class="ax" x="993.5" y="424.30">100</text>
<text class="ax" x="993.5" y="426.90">70</text>
<text class="ax" x="993.5" y="435.30">30</text>
<text class="ax" x="993.5" y="440.20">0</text>
<rect x="990" y="423.3" width="1.9" height="1.1" fill="#a4aebe"/>
<rect x="990" y="431.9" width="1.9" height="1.1" fill="#a4aebe"/>
</svg></body></html>
